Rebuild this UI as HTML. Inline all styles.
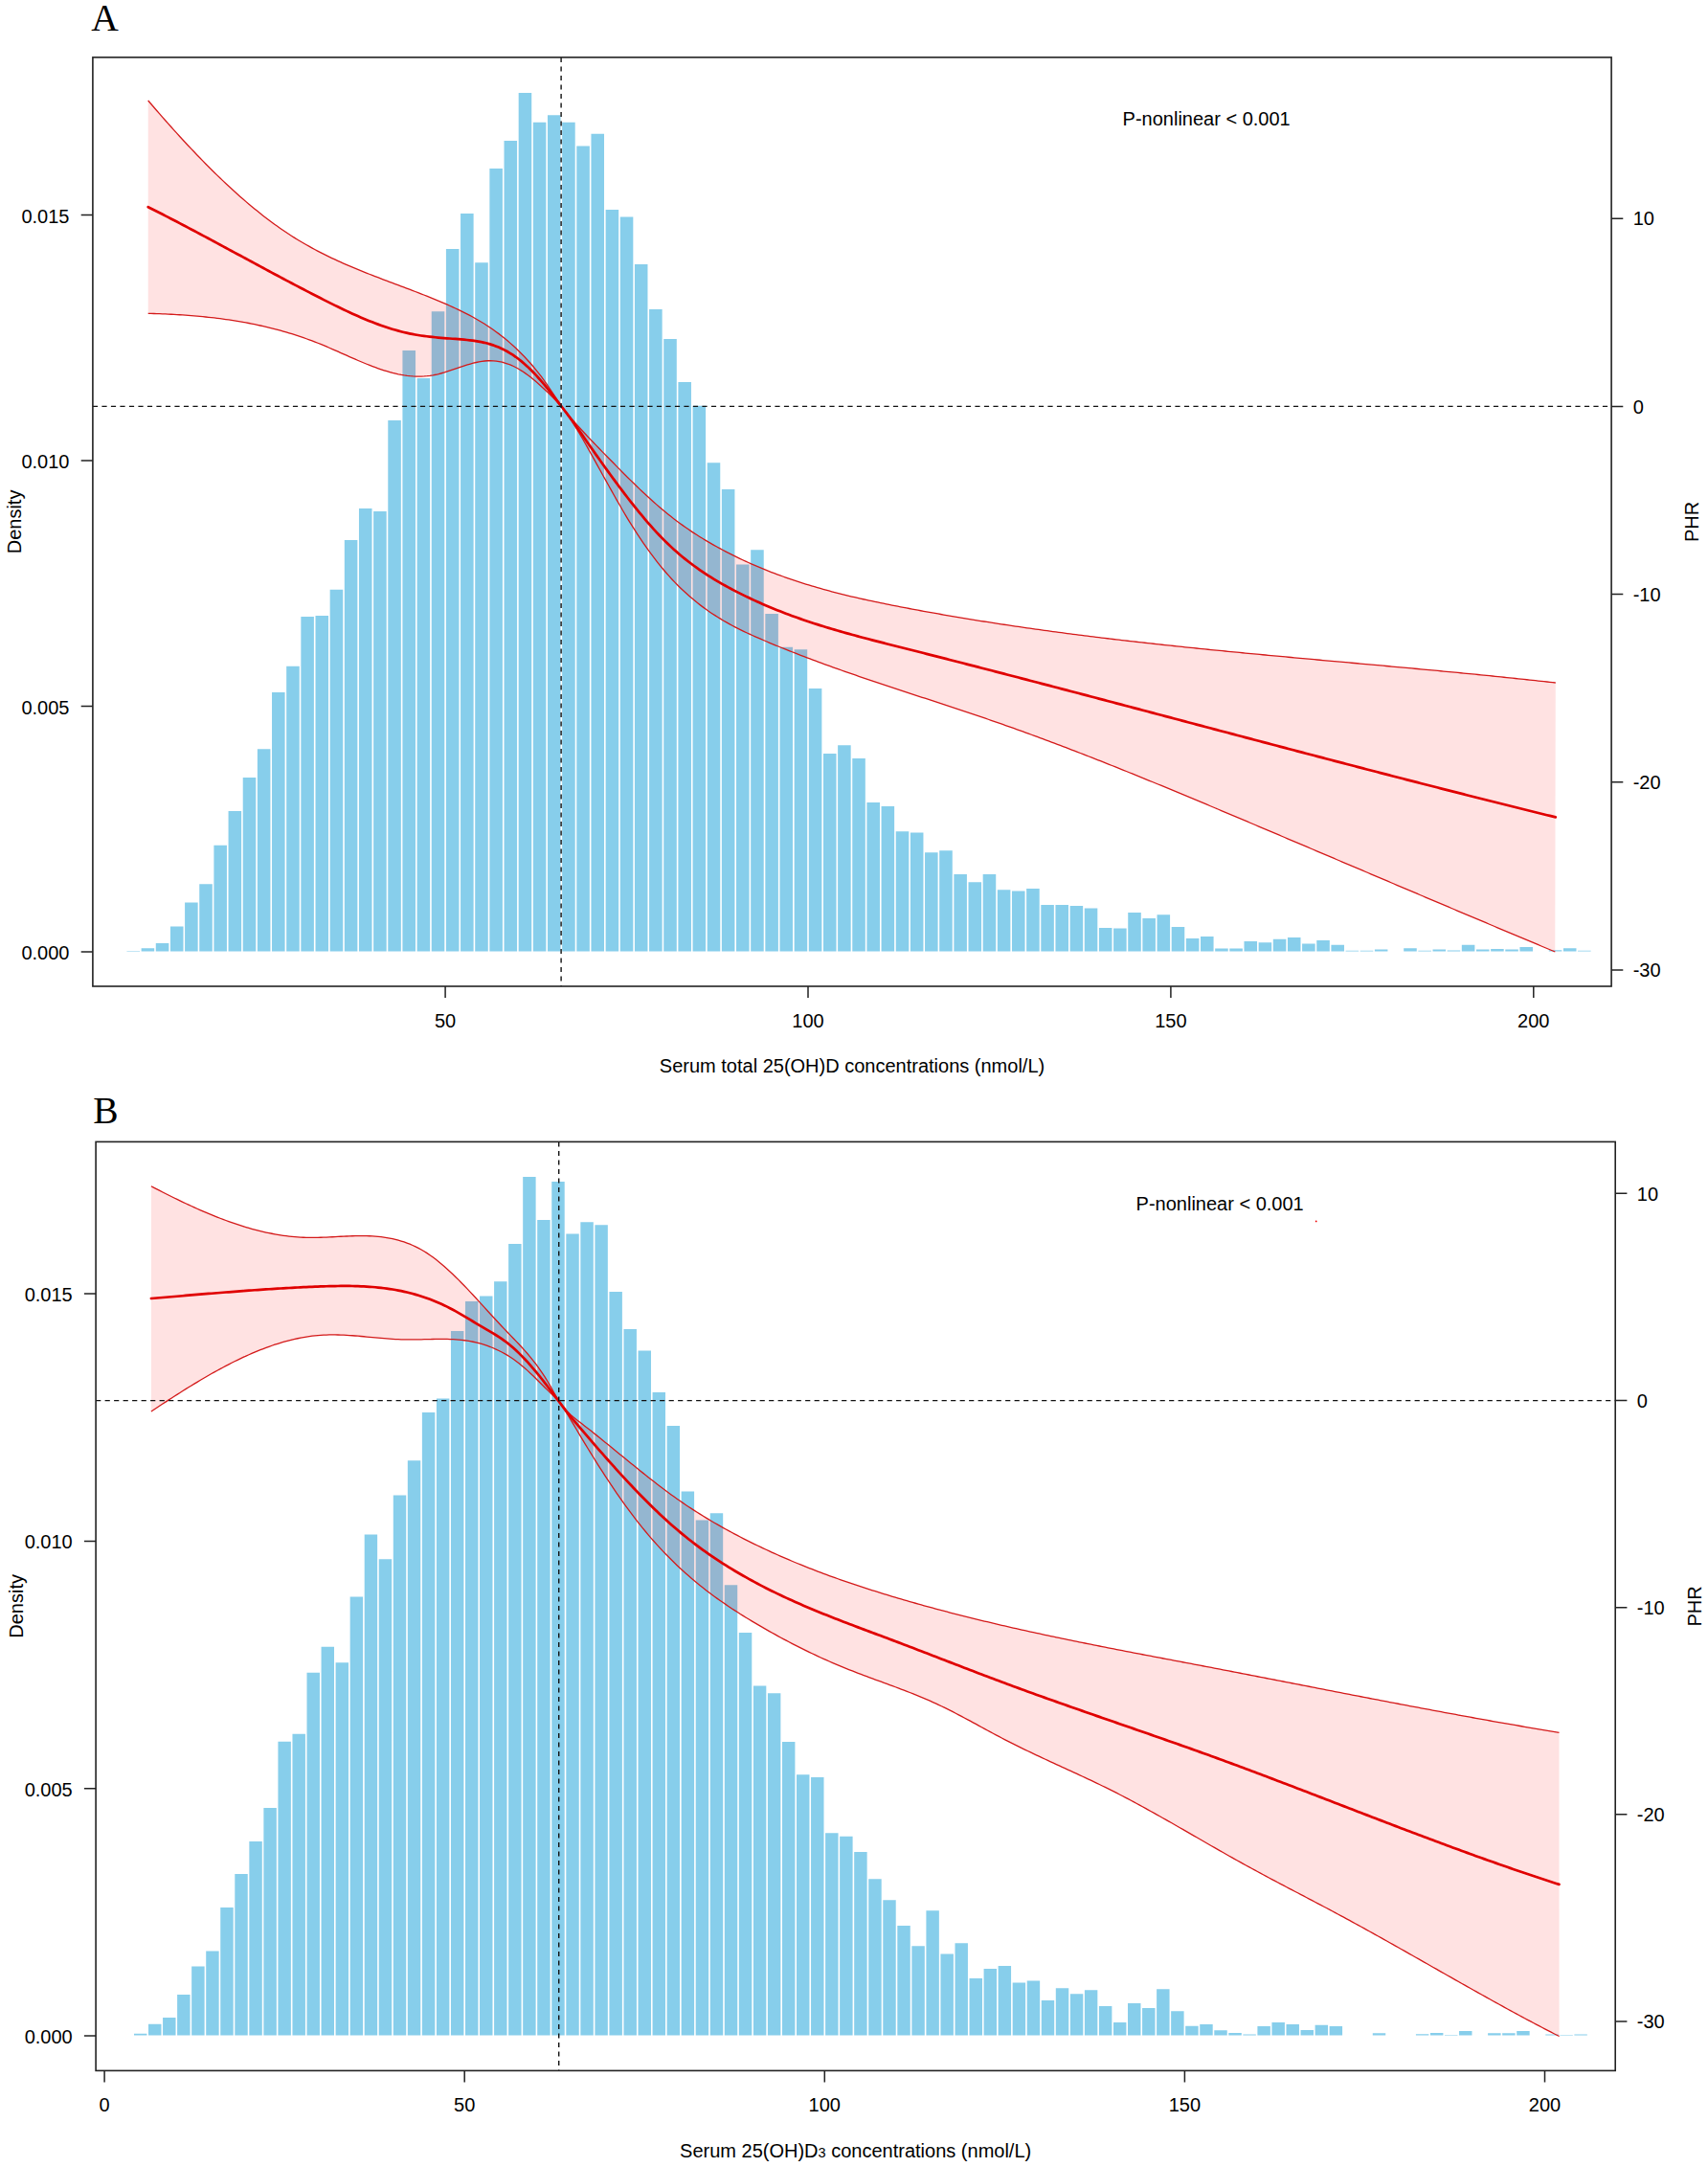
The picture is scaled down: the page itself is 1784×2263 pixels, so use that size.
<!DOCTYPE html>
<html><head><meta charset="utf-8"><title>Figure</title>
<style>
html,body{margin:0;padding:0;background:#fff;}
body{width:1784px;height:2263px;overflow:hidden;}
svg{display:block;}
.lab{font-family:"Liberation Sans",sans-serif;font-size:20px;fill:#000;}
.let{font-family:"Liberation Serif",serif;font-size:39.5px;fill:#000;}
</style></head>
<body>
<svg xmlns="http://www.w3.org/2000/svg" width="1784" height="2263" viewBox="0 0 1784 2263">
<rect width="1784" height="2263" fill="#fff"/>
<path d="M131.67,993.6V993H146.82V993.6ZM146.82,993.6V990.3H161.98V993.6ZM161.98,993.6V985H177.14V993.6ZM177.14,993.6V967.4H192.29V993.6ZM192.29,993.6V942.6H207.45V993.6ZM207.45,993.6V923.3H222.6V993.6ZM222.6,993.6V882.8H237.76V993.6ZM237.76,993.6V846.9H252.92V993.6ZM252.92,993.6V812H268.07V993.6ZM268.07,993.6V782.2H283.23V993.6ZM283.23,993.6V723H298.38V993.6ZM298.38,993.6V695.7H313.54V993.6ZM313.54,993.6V643.9H328.7V993.6ZM328.7,993.6V643H343.85V993.6ZM343.85,993.6V615.8H359.01V993.6ZM359.01,993.6V564.1H374.16V993.6ZM374.16,993.6V531.1H389.32V993.6ZM389.32,993.6V533.9H404.48V993.6ZM404.48,993.6V439.1H419.63V993.6ZM419.63,993.6V366H434.79V993.6ZM434.79,993.6V394.9H449.94V993.6ZM449.94,993.6V325.2H465.1V993.6ZM465.1,993.6V260.1H480.26V993.6ZM480.26,993.6V223H495.41V993.6ZM495.41,993.6V274.3H510.57V993.6ZM510.57,993.6V176H525.72V993.6ZM525.72,993.6V147H540.88V993.6ZM540.88,993.6V96.9H556.04V993.6ZM556.04,993.6V127.8H571.19V993.6ZM571.19,993.6V120.3H586.35V993.6ZM586.35,993.6V127.8H601.5V993.6ZM601.5,993.6V152.4H616.66V993.6ZM616.66,993.6V139.7H631.82V993.6ZM631.82,993.6V219.1H646.97V993.6ZM646.97,993.6V226.5H662.13V993.6ZM662.13,993.6V276H677.28V993.6ZM677.28,993.6V323H692.44V993.6ZM692.44,993.6V354.1H707.6V993.6ZM707.6,993.6V399H722.75V993.6ZM722.75,993.6V423.8H737.91V993.6ZM737.91,993.6V483.3H753.06V993.6ZM753.06,993.6V510.9H768.22V993.6ZM768.22,993.6V589.5H783.38V993.6ZM783.38,993.6V574.2H798.53V993.6ZM798.53,993.6V640.9H813.69V993.6ZM813.69,993.6V675.7H828.84V993.6ZM828.84,993.6V678.2H844V993.6ZM844,993.6V719H859.16V993.6ZM859.16,993.6V786.9H874.31V993.6ZM874.31,993.6V778.2H889.47V993.6ZM889.47,993.6V791.9H904.62V993.6ZM904.62,993.6V837.9H919.78V993.6ZM919.78,993.6V841.9H934.94V993.6ZM934.94,993.6V868.3H950.09V993.6ZM950.09,993.6V869.5H965.25V993.6ZM965.25,993.6V890.2H980.4V993.6ZM980.4,993.6V888.3H995.56V993.6ZM995.56,993.6V913.1H1010.72V993.6ZM1010.72,993.6V921.3H1025.87V993.6ZM1025.87,993.6V913.1H1041.03V993.6ZM1041.03,993.6V929.2H1056.18V993.6ZM1056.18,993.6V930.6H1071.34V993.6ZM1071.34,993.6V928H1086.5V993.6ZM1086.5,993.6V945H1101.65V993.6ZM1101.65,993.6V945H1116.81V993.6ZM1116.81,993.6V945.9H1131.96V993.6ZM1131.96,993.6V948.6H1147.12V993.6ZM1147.12,993.6V969H1162.28V993.6ZM1162.28,993.6V969.6H1177.43V993.6ZM1177.43,993.6V953H1192.59V993.6ZM1192.59,993.6V959H1207.74V993.6ZM1207.74,993.6V955.2H1222.9V993.6ZM1222.9,993.6V968H1238.06V993.6ZM1238.06,993.6V980H1253.21V993.6ZM1253.21,993.6V978H1268.37V993.6ZM1268.37,993.6V990.5H1283.52V993.6ZM1283.52,993.6V990.5H1298.68V993.6ZM1298.68,993.6V983H1313.84V993.6ZM1313.84,993.6V984.3H1328.99V993.6ZM1328.99,993.6V980.7H1344.15V993.6ZM1344.15,993.6V979.1H1359.3V993.6ZM1359.3,993.6V985.6H1374.46V993.6ZM1374.46,993.6V982H1389.62V993.6ZM1389.62,993.6V986.7H1404.77V993.6ZM1404.77,993.6V992.8H1419.93V993.6ZM1419.93,993.6V992.8H1435.08V993.6ZM1435.08,993.6V991.5H1450.24V993.6ZM1465.4,993.6V990.2H1480.55V993.6ZM1480.55,993.6V992.8H1495.71V993.6ZM1495.71,993.6V991.5H1510.86V993.6ZM1510.86,993.6V992.6H1526.02V993.6ZM1526.02,993.6V986.7H1541.18V993.6ZM1541.18,993.6V991.5H1556.33V993.6ZM1556.33,993.6V991H1571.49V993.6ZM1571.49,993.6V991.5H1586.64V993.6ZM1586.64,993.6V989.1H1601.8V993.6ZM1616.96,993.6V992.3H1632.11V993.6ZM1632.11,993.6V990.2H1647.27V993.6ZM1647.27,993.6V992.8H1662.42V993.6Z" fill="#87CEEB" stroke="none"/>
<path d="M131.67,995V992M146.82,995V989.3M161.98,995V984M177.14,995V966.4M192.29,995V941.6M207.45,995V922.3M222.6,995V881.8M237.76,995V845.9M252.92,995V811M268.07,995V781.2M283.23,995V722M298.38,995V694.7M313.54,995V642.9M328.7,995V642M343.85,995V614.8M359.01,995V563.1M374.16,995V530.1M389.32,995V530.1M404.48,995V438.1M419.63,995V365M434.79,995V365M449.94,995V324.2M465.1,995V259.1M480.26,995V222M495.41,995V222M510.57,995V175M525.72,995V146M540.88,995V95.9M556.04,995V95.9M571.19,995V119.3M586.35,995V119.3M601.5,995V126.8M616.66,995V138.7M631.82,995V138.7M646.97,995V218.1M662.13,995V225.5M677.28,995V275M692.44,995V322M707.6,995V353.1M722.75,995V398M737.91,995V422.8M753.06,995V482.3M768.22,995V509.9M783.38,995V573.2M798.53,995V573.2M813.69,995V639.9M828.84,995V674.7M844,995V677.2M859.16,995V718M874.31,995V777.2M889.47,995V777.2M904.62,995V790.9M919.78,995V836.9M934.94,995V840.9M950.09,995V867.3M965.25,995V868.5M980.4,995V887.3M995.56,995V887.3M1010.72,995V912.1M1025.87,995V912.1M1041.03,995V912.1M1056.18,995V928.2M1071.34,995V927M1086.5,995V927M1101.65,995V944M1116.81,995V944M1131.96,995V944.9M1147.12,995V947.6M1162.28,995V968M1177.43,995V952M1192.59,995V952M1207.74,995V954.2M1222.9,995V954.2M1238.06,995V967M1253.21,995V977M1268.37,995V977M1283.52,995V989.5M1298.68,995V982M1313.84,995V982M1328.99,995V979.7M1344.15,995V978.1M1359.3,995V978.1M1374.46,995V981M1389.62,995V981M1404.77,995V985.7M1419.93,995V991.8M1435.08,995V990.5M1450.24,995V990.5M1465.4,995V989.2M1480.55,995V989.2M1495.71,995V990.5M1510.86,995V990.5M1526.02,995V985.7M1541.18,995V985.7M1556.33,995V990M1571.49,995V990M1586.64,995V988.1M1601.8,995V988.1M1616.96,995V991.3M1632.11,995V989.2M1647.27,995V989.2M1662.42,995V991.8" stroke="#fff" stroke-width="1.6" fill="none"/>
<path d="M154.7,105 L157.7,108.51 L160.7,111.99 L163.7,115.46 L166.7,118.91 L169.7,122.34 L172.7,125.75 L175.7,129.14 L178.7,132.5 L181.7,135.84 L184.7,139.16 L187.7,142.45 L190.7,145.72 L193.7,148.97 L196.7,152.19 L199.7,155.38 L202.7,158.55 L205.7,161.69 L208.7,164.8 L211.7,167.88 L214.7,170.94 L217.7,173.96 L220.7,176.96 L223.7,179.92 L226.7,182.86 L229.71,185.76 L232.71,188.63 L235.71,191.47 L238.71,194.28 L241.71,197.05 L244.71,199.78 L247.71,202.48 L250.71,205.15 L253.71,207.78 L256.71,210.38 L259.71,212.93 L262.71,215.45 L265.71,217.93 L268.71,220.37 L271.71,222.78 L274.71,225.14 L277.71,227.46 L280.71,229.74 L283.71,231.98 L286.71,234.18 L289.71,236.34 L292.71,238.45 L295.71,240.52 L298.71,242.54 L301.71,244.52 L304.71,246.45 L307.71,248.35 L310.71,250.19 L313.71,252 L316.71,253.77 L319.71,255.5 L322.71,257.19 L325.71,258.85 L328.71,260.47 L331.71,262.06 L334.71,263.62 L337.71,265.14 L340.71,266.64 L343.71,268.1 L346.71,269.54 L349.71,270.95 L352.71,272.34 L355.71,273.7 L358.71,275.04 L361.71,276.35 L364.71,277.65 L367.71,278.92 L370.71,280.18 L373.71,281.42 L376.72,282.65 L379.72,283.86 L382.72,285.06 L385.72,286.24 L388.72,287.42 L391.72,288.58 L394.72,289.73 L397.72,290.88 L400.72,292.02 L403.72,293.16 L406.72,294.29 L409.72,295.42 L412.72,296.55 L415.72,297.67 L418.72,298.8 L421.72,299.93 L424.72,301.07 L427.72,302.2 L430.72,303.35 L433.72,304.5 L436.72,305.65 L439.72,306.82 L442.72,308 L445.72,309.19 L448.72,310.39 L451.72,311.61 L454.72,312.84 L457.72,314.08 L460.72,315.35 L463.72,316.63 L466.72,317.93 L469.72,319.26 L472.72,320.61 L475.72,321.98 L478.72,323.39 L481.72,324.84 L484.72,326.32 L487.72,327.84 L490.72,329.42 L493.72,331.03 L496.72,332.71 L499.72,334.44 L502.72,336.22 L505.72,338.07 L508.72,339.99 L511.72,341.98 L514.72,344.04 L517.72,346.17 L520.72,348.39 L523.73,350.69 L526.73,353.08 L529.73,355.56 L532.73,358.13 L535.73,360.8 L538.73,363.57 L541.73,366.44 L544.73,369.43 L547.73,372.52 L550.73,375.73 L553.73,379.06 L556.73,382.51 L559.73,386.09 L562.73,389.82 L565.73,393.72 L568.73,397.81 L571.73,402.1 L574.73,406.57 L577.73,411.12 L580.73,415.65 L583.73,420.08 L586.73,424.31 L589.73,428.29 L592.73,432.06 L595.73,435.66 L598.73,439.17 L601.73,442.6 L604.73,445.96 L607.73,449.27 L610.73,452.53 L613.73,455.74 L616.73,458.92 L619.73,462.06 L622.73,465.17 L625.73,468.26 L628.73,471.34 L631.73,474.4 L634.73,477.47 L637.73,480.53 L640.73,483.58 L643.73,486.62 L646.73,489.66 L649.73,492.68 L652.73,495.68 L655.73,498.67 L658.73,501.63 L661.73,504.57 L664.73,507.48 L667.73,510.36 L670.74,513.21 L673.74,516.02 L676.74,518.8 L679.74,521.54 L682.74,524.23 L685.74,526.88 L688.74,529.48 L691.74,532.03 L694.74,534.53 L697.74,536.97 L700.74,539.36 L703.74,541.69 L706.74,543.97 L709.74,546.19 L712.74,548.37 L715.74,550.5 L718.74,552.58 L721.74,554.62 L724.74,556.61 L727.74,558.55 L730.74,560.46 L733.74,562.32 L736.74,564.14 L739.74,565.92 L742.74,567.67 L745.74,569.38 L748.74,571.05 L751.74,572.69 L754.74,574.3 L757.74,575.88 L760.74,577.42 L763.74,578.94 L766.74,580.43 L769.74,581.9 L772.74,583.33 L775.74,584.74 L778.74,586.13 L781.74,587.49 L784.74,588.83 L787.74,590.14 L790.74,591.43 L793.74,592.69 L796.74,593.93 L799.74,595.15 L802.74,596.35 L805.74,597.52 L808.74,598.67 L811.74,599.8 L814.74,600.91 L817.75,602 L820.75,603.07 L823.75,604.12 L826.75,605.15 L829.75,606.16 L832.75,607.16 L835.75,608.13 L838.75,609.09 L841.75,610.03 L844.75,610.95 L847.75,611.85 L850.75,612.74 L853.75,613.62 L856.75,614.48 L859.75,615.32 L862.75,616.15 L865.75,616.96 L868.75,617.76 L871.75,618.55 L874.75,619.32 L877.75,620.08 L880.75,620.83 L883.75,621.57 L886.75,622.29 L889.75,623.01 L892.75,623.71 L895.75,624.4 L898.75,625.08 L901.75,625.75 L904.75,626.42 L907.75,627.07 L910.75,627.72 L913.75,628.35 L916.75,628.98 L919.75,629.6 L922.75,630.22 L925.75,630.83 L928.75,631.43 L931.75,632.03 L934.75,632.62 L937.75,633.2 L940.75,633.78 L943.75,634.36 L946.75,634.93 L949.75,635.5 L952.75,636.07 L955.75,636.63 L958.75,637.19 L961.75,637.74 L964.76,638.29 L967.76,638.84 L970.76,639.38 L973.76,639.92 L976.76,640.45 L979.76,640.98 L982.76,641.51 L985.76,642.03 L988.76,642.55 L991.76,643.07 L994.76,643.58 L997.76,644.09 L1000.76,644.6 L1003.76,645.1 L1006.76,645.6 L1009.76,646.1 L1012.76,646.59 L1015.76,647.08 L1018.76,647.57 L1021.76,648.05 L1024.76,648.53 L1027.76,649.01 L1030.76,649.48 L1033.76,649.95 L1036.76,650.41 L1039.76,650.88 L1042.76,651.34 L1045.76,651.8 L1048.76,652.25 L1051.76,652.7 L1054.76,653.15 L1057.76,653.59 L1060.76,654.04 L1063.76,654.48 L1066.76,654.91 L1069.76,655.34 L1072.76,655.78 L1075.76,656.2 L1078.76,656.63 L1081.76,657.05 L1084.76,657.47 L1087.76,657.89 L1090.76,658.3 L1093.76,658.71 L1096.76,659.12 L1099.76,659.52 L1102.76,659.93 L1105.76,660.33 L1108.76,660.73 L1111.77,661.12 L1114.77,661.52 L1117.77,661.91 L1120.77,662.29 L1123.77,662.68 L1126.77,663.06 L1129.77,663.44 L1132.77,663.82 L1135.77,664.2 L1138.77,664.57 L1141.77,664.94 L1144.77,665.31 L1147.77,665.68 L1150.77,666.04 L1153.77,666.41 L1156.77,666.77 L1159.77,667.13 L1162.77,667.48 L1165.77,667.84 L1168.77,668.19 L1171.77,668.54 L1174.77,668.89 L1177.77,669.23 L1180.77,669.58 L1183.77,669.92 L1186.77,670.26 L1189.77,670.6 L1192.77,670.94 L1195.77,671.27 L1198.77,671.6 L1201.77,671.93 L1204.77,672.26 L1207.77,672.59 L1210.77,672.92 L1213.77,673.24 L1216.77,673.57 L1219.77,673.89 L1222.77,674.21 L1225.77,674.52 L1228.77,674.84 L1231.77,675.16 L1234.77,675.47 L1237.77,675.78 L1240.77,676.09 L1243.77,676.4 L1246.77,676.71 L1249.77,677.01 L1252.77,677.32 L1255.77,677.62 L1258.78,677.93 L1261.78,678.23 L1264.78,678.53 L1267.78,678.83 L1270.78,679.12 L1273.78,679.42 L1276.78,679.71 L1279.78,680.01 L1282.78,680.3 L1285.78,680.59 L1288.78,680.88 L1291.78,681.17 L1294.78,681.46 L1297.78,681.75 L1300.78,682.04 L1303.78,682.32 L1306.78,682.61 L1309.78,682.89 L1312.78,683.18 L1315.78,683.46 L1318.78,683.74 L1321.78,684.02 L1324.78,684.3 L1327.78,684.58 L1330.78,684.86 L1333.78,685.14 L1336.78,685.42 L1339.78,685.7 L1342.78,685.97 L1345.78,686.25 L1348.78,686.52 L1351.78,686.8 L1354.78,687.07 L1357.78,687.35 L1360.78,687.62 L1363.78,687.89 L1366.78,688.17 L1369.78,688.44 L1372.78,688.71 L1375.78,688.98 L1378.78,689.26 L1381.78,689.53 L1384.78,689.8 L1387.78,690.07 L1390.78,690.34 L1393.78,690.61 L1396.78,690.88 L1399.78,691.15 L1402.78,691.42 L1405.79,691.69 L1408.79,691.96 L1411.79,692.23 L1414.79,692.5 L1417.79,692.77 L1420.79,693.04 L1423.79,693.31 L1426.79,693.58 L1429.79,693.86 L1432.79,694.13 L1435.79,694.4 L1438.79,694.67 L1441.79,694.94 L1444.79,695.21 L1447.79,695.49 L1450.79,695.76 L1453.79,696.03 L1456.79,696.3 L1459.79,696.58 L1462.79,696.85 L1465.79,697.13 L1468.79,697.4 L1471.79,697.68 L1474.79,697.96 L1477.79,698.23 L1480.79,698.51 L1483.79,698.79 L1486.79,699.07 L1489.79,699.35 L1492.79,699.63 L1495.79,699.91 L1498.79,700.19 L1501.79,700.47 L1504.79,700.75 L1507.79,701.04 L1510.79,701.32 L1513.79,701.61 L1516.79,701.89 L1519.79,702.18 L1522.79,702.47 L1525.79,702.76 L1528.79,703.05 L1531.79,703.34 L1534.79,703.63 L1537.79,703.93 L1540.79,704.22 L1543.79,704.52 L1546.79,704.81 L1549.79,705.11 L1552.8,705.41 L1555.8,705.71 L1558.8,706.01 L1561.8,706.32 L1564.8,706.62 L1567.8,706.93 L1570.8,707.23 L1573.8,707.54 L1576.8,707.85 L1579.8,708.16 L1582.8,708.48 L1585.8,708.79 L1588.8,709.11 L1591.8,709.42 L1594.8,709.74 L1597.8,710.06 L1600.8,710.39 L1603.8,710.71 L1606.8,711.03 L1609.8,711.36 L1612.8,711.69 L1615.8,712.02 L1618.8,712.35 L1621.8,712.69 L1624.8,713.02 L1624.3,994.01 L1621.29,992.76 L1618.29,991.5 L1615.28,990.24 L1612.28,988.99 L1609.27,987.73 L1606.27,986.47 L1603.26,985.21 L1600.26,983.95 L1597.25,982.69 L1594.25,981.43 L1591.24,980.17 L1588.24,978.9 L1585.23,977.64 L1582.23,976.38 L1579.22,975.11 L1576.21,973.85 L1573.21,972.59 L1570.2,971.32 L1567.2,970.06 L1564.19,968.79 L1561.19,967.52 L1558.18,966.26 L1555.18,964.99 L1552.17,963.72 L1549.17,962.46 L1546.16,961.19 L1543.16,959.92 L1540.15,958.65 L1537.15,957.38 L1534.14,956.11 L1531.14,954.84 L1528.13,953.57 L1525.12,952.3 L1522.12,951.03 L1519.11,949.76 L1516.11,948.49 L1513.1,947.22 L1510.1,945.94 L1507.09,944.67 L1504.09,943.4 L1501.08,942.13 L1498.08,940.85 L1495.07,939.58 L1492.07,938.31 L1489.06,937.03 L1486.06,935.76 L1483.05,934.48 L1480.04,933.21 L1477.04,931.93 L1474.03,930.66 L1471.03,929.38 L1468.02,928.11 L1465.02,926.83 L1462.01,925.56 L1459.01,924.28 L1456,923.01 L1453,921.73 L1449.99,920.46 L1446.99,919.18 L1443.98,917.9 L1440.98,916.63 L1437.97,915.35 L1434.97,914.07 L1431.96,912.8 L1428.95,911.52 L1425.95,910.24 L1422.94,908.97 L1419.94,907.69 L1416.93,906.41 L1413.93,905.14 L1410.92,903.86 L1407.92,902.58 L1404.91,901.31 L1401.91,900.03 L1398.9,898.75 L1395.9,897.48 L1392.89,896.2 L1389.89,894.92 L1386.88,893.65 L1383.87,892.37 L1380.87,891.09 L1377.86,889.82 L1374.86,888.54 L1371.85,887.27 L1368.85,885.99 L1365.84,884.71 L1362.84,883.44 L1359.83,882.16 L1356.83,880.89 L1353.82,879.61 L1350.82,878.34 L1347.81,877.06 L1344.81,875.79 L1341.8,874.51 L1338.79,873.24 L1335.79,871.96 L1332.78,870.69 L1329.78,869.41 L1326.77,868.14 L1323.77,866.87 L1320.76,865.59 L1317.76,864.32 L1314.75,863.05 L1311.75,861.77 L1308.74,860.5 L1305.74,859.23 L1302.73,857.96 L1299.73,856.69 L1296.72,855.42 L1293.72,854.15 L1290.71,852.88 L1287.7,851.61 L1284.7,850.34 L1281.69,849.07 L1278.69,847.8 L1275.68,846.54 L1272.68,845.27 L1269.67,844.01 L1266.67,842.74 L1263.66,841.48 L1260.66,840.22 L1257.65,838.96 L1254.65,837.7 L1251.64,836.44 L1248.64,835.18 L1245.63,833.93 L1242.62,832.67 L1239.62,831.42 L1236.61,830.17 L1233.61,828.92 L1230.6,827.67 L1227.6,826.42 L1224.59,825.18 L1221.59,823.93 L1218.58,822.69 L1215.58,821.45 L1212.57,820.21 L1209.57,818.98 L1206.56,817.74 L1203.56,816.51 L1200.55,815.28 L1197.54,814.05 L1194.54,812.83 L1191.53,811.6 L1188.53,810.38 L1185.52,809.16 L1182.52,807.95 L1179.51,806.73 L1176.51,805.52 L1173.5,804.31 L1170.5,803.1 L1167.49,801.9 L1164.49,800.7 L1161.48,799.5 L1158.48,798.3 L1155.47,797.11 L1152.47,795.92 L1149.46,794.73 L1146.45,793.55 L1143.45,792.37 L1140.44,791.19 L1137.44,790.01 L1134.43,788.84 L1131.43,787.67 L1128.42,786.51 L1125.42,785.34 L1122.41,784.19 L1119.41,783.03 L1116.4,781.88 L1113.4,780.73 L1110.39,779.59 L1107.39,778.44 L1104.38,777.31 L1101.37,776.17 L1098.37,775.04 L1095.36,773.92 L1092.36,772.8 L1089.35,771.68 L1086.35,770.56 L1083.34,769.45 L1080.34,768.35 L1077.33,767.24 L1074.33,766.15 L1071.32,765.05 L1068.32,763.96 L1065.31,762.88 L1062.31,761.8 L1059.3,760.72 L1056.3,759.65 L1053.29,758.58 L1050.28,757.52 L1047.28,756.46 L1044.27,755.41 L1041.27,754.36 L1038.26,753.32 L1035.26,752.28 L1032.25,751.24 L1029.25,750.21 L1026.24,749.19 L1023.24,748.17 L1020.23,747.15 L1017.23,746.13 L1014.22,745.12 L1011.22,744.11 L1008.21,743.11 L1005.2,742.11 L1002.2,741.11 L999.19,740.11 L996.19,739.11 L993.18,738.12 L990.18,737.13 L987.17,736.14 L984.17,735.15 L981.16,734.17 L978.16,733.18 L975.15,732.19 L972.15,731.21 L969.14,730.23 L966.14,729.24 L963.13,728.26 L960.12,727.28 L957.12,726.29 L954.11,725.31 L951.11,724.32 L948.1,723.34 L945.1,722.35 L942.09,721.36 L939.09,720.37 L936.08,719.38 L933.08,718.39 L930.07,717.4 L927.07,716.4 L924.06,715.4 L921.06,714.4 L918.05,713.39 L915.05,712.39 L912.04,711.38 L909.03,710.36 L906.03,709.34 L903.02,708.32 L900.02,707.3 L897.01,706.27 L894.01,705.23 L891,704.2 L888,703.15 L884.99,702.11 L881.99,701.05 L878.98,700 L875.98,698.93 L872.97,697.86 L869.97,696.79 L866.96,695.71 L863.95,694.62 L860.95,693.53 L857.94,692.43 L854.94,691.32 L851.93,690.21 L848.93,689.09 L845.92,687.96 L842.92,686.82 L839.91,685.68 L836.91,684.53 L833.9,683.37 L830.9,682.2 L827.89,681.02 L824.89,679.84 L821.88,678.64 L818.88,677.44 L815.87,676.23 L812.86,675.01 L809.86,673.78 L806.85,672.53 L803.85,671.28 L800.84,670.02 L797.84,668.75 L794.83,667.46 L791.83,666.16 L788.82,664.84 L785.82,663.5 L782.81,662.13 L779.81,660.74 L776.8,659.31 L773.8,657.85 L770.79,656.35 L767.78,654.81 L764.78,653.23 L761.77,651.6 L758.77,649.92 L755.76,648.19 L752.76,646.41 L749.75,644.56 L746.75,642.66 L743.74,640.69 L740.74,638.66 L737.73,636.55 L734.73,634.37 L731.72,632.12 L728.72,629.78 L725.71,627.36 L722.7,624.86 L719.7,622.27 L716.69,619.59 L713.69,616.81 L710.68,613.94 L707.68,610.96 L704.67,607.88 L701.67,604.7 L698.66,601.41 L695.66,598 L692.65,594.48 L689.65,590.84 L686.64,587.09 L683.64,583.22 L680.63,579.24 L677.63,575.15 L674.62,570.93 L671.61,566.61 L668.61,562.17 L665.6,557.62 L662.6,552.95 L659.59,548.17 L656.59,543.29 L653.58,538.3 L650.58,533.22 L647.57,528.05 L644.57,522.82 L641.56,517.53 L638.56,512.19 L635.55,506.8 L632.55,501.39 L629.54,495.96 L626.53,490.51 L623.53,485.07 L620.52,479.64 L617.52,474.22 L614.51,468.84 L611.51,463.51 L608.5,458.25 L605.5,453.11 L602.49,448.12 L599.49,443.31 L596.48,438.71 L593.48,434.35 L590.47,430.23 L587.47,426.35 L584.46,422.71 L581.46,419.3 L578.45,416.08 L575.44,413.02 L572.44,410.07 L569.43,407.2 L566.43,404.41 L563.42,401.68 L560.42,399.05 L557.41,396.51 L554.41,394.08 L551.4,391.78 L548.4,389.61 L545.39,387.58 L542.39,385.72 L539.38,384.03 L536.38,382.51 L533.37,381.17 L530.36,380.01 L527.36,379.02 L524.35,378.21 L521.35,377.57 L518.34,377.11 L515.34,376.82 L512.33,376.71 L509.33,376.77 L506.32,376.99 L503.32,377.37 L500.31,377.87 L497.31,378.5 L494.3,379.22 L491.3,380.04 L488.29,380.93 L485.28,381.87 L482.28,382.86 L479.27,383.88 L476.27,384.91 L473.26,385.94 L470.26,386.96 L467.25,387.94 L464.25,388.88 L461.24,389.75 L458.24,390.55 L455.23,391.26 L452.23,391.86 L449.22,392.35 L446.22,392.72 L443.21,392.97 L440.21,393.11 L437.2,393.15 L434.19,393.09 L431.19,392.93 L428.18,392.68 L425.18,392.33 L422.17,391.9 L419.17,391.39 L416.16,390.8 L413.16,390.13 L410.15,389.4 L407.15,388.6 L404.14,387.73 L401.14,386.81 L398.13,385.83 L395.13,384.8 L392.12,383.72 L389.11,382.6 L386.11,381.44 L383.1,380.25 L380.1,379.02 L377.09,377.77 L374.09,376.49 L371.08,375.19 L368.08,373.88 L365.07,372.55 L362.07,371.21 L359.06,369.88 L356.06,368.54 L353.05,367.2 L350.05,365.87 L347.04,364.55 L344.03,363.25 L341.03,361.97 L338.02,360.71 L335.02,359.47 L332.01,358.27 L329.01,357.09 L326,355.95 L323,354.83 L319.99,353.75 L316.99,352.69 L313.98,351.66 L310.98,350.66 L307.97,349.69 L304.97,348.74 L301.96,347.82 L298.96,346.92 L295.95,346.06 L292.94,345.21 L289.94,344.4 L286.93,343.6 L283.93,342.83 L280.92,342.09 L277.92,341.37 L274.91,340.67 L271.91,340 L268.9,339.34 L265.9,338.71 L262.89,338.1 L259.89,337.51 L256.88,336.95 L253.88,336.4 L250.87,335.87 L247.86,335.37 L244.86,334.88 L241.85,334.41 L238.85,333.96 L235.84,333.53 L232.84,333.11 L229.83,332.72 L226.83,332.34 L223.82,331.97 L220.82,331.63 L217.81,331.3 L214.81,330.98 L211.8,330.68 L208.8,330.39 L205.79,330.12 L202.79,329.86 L199.78,329.62 L196.77,329.39 L193.77,329.17 L190.76,328.96 L187.76,328.77 L184.75,328.58 L181.75,328.41 L178.74,328.25 L175.74,328.1 L172.73,327.96 L169.73,327.83 L166.72,327.71 L163.72,327.6 L160.71,327.49 L157.71,327.39 L154.7,327.31 Z" fill="rgb(255,0,0)" fill-opacity="0.115" stroke="none"/>
<path d="M154.7,105 L157.7,108.51 L160.7,111.99 L163.7,115.46 L166.7,118.91 L169.7,122.34 L172.7,125.75 L175.7,129.14 L178.7,132.5 L181.7,135.84 L184.7,139.16 L187.7,142.45 L190.7,145.72 L193.7,148.97 L196.7,152.19 L199.7,155.38 L202.7,158.55 L205.7,161.69 L208.7,164.8 L211.7,167.88 L214.7,170.94 L217.7,173.96 L220.7,176.96 L223.7,179.92 L226.7,182.86 L229.71,185.76 L232.71,188.63 L235.71,191.47 L238.71,194.28 L241.71,197.05 L244.71,199.78 L247.71,202.48 L250.71,205.15 L253.71,207.78 L256.71,210.38 L259.71,212.93 L262.71,215.45 L265.71,217.93 L268.71,220.37 L271.71,222.78 L274.71,225.14 L277.71,227.46 L280.71,229.74 L283.71,231.98 L286.71,234.18 L289.71,236.34 L292.71,238.45 L295.71,240.52 L298.71,242.54 L301.71,244.52 L304.71,246.45 L307.71,248.35 L310.71,250.19 L313.71,252 L316.71,253.77 L319.71,255.5 L322.71,257.19 L325.71,258.85 L328.71,260.47 L331.71,262.06 L334.71,263.62 L337.71,265.14 L340.71,266.64 L343.71,268.1 L346.71,269.54 L349.71,270.95 L352.71,272.34 L355.71,273.7 L358.71,275.04 L361.71,276.35 L364.71,277.65 L367.71,278.92 L370.71,280.18 L373.71,281.42 L376.72,282.65 L379.72,283.86 L382.72,285.06 L385.72,286.24 L388.72,287.42 L391.72,288.58 L394.72,289.73 L397.72,290.88 L400.72,292.02 L403.72,293.16 L406.72,294.29 L409.72,295.42 L412.72,296.55 L415.72,297.67 L418.72,298.8 L421.72,299.93 L424.72,301.07 L427.72,302.2 L430.72,303.35 L433.72,304.5 L436.72,305.65 L439.72,306.82 L442.72,308 L445.72,309.19 L448.72,310.39 L451.72,311.61 L454.72,312.84 L457.72,314.08 L460.72,315.35 L463.72,316.63 L466.72,317.93 L469.72,319.26 L472.72,320.61 L475.72,321.98 L478.72,323.39 L481.72,324.84 L484.72,326.32 L487.72,327.84 L490.72,329.42 L493.72,331.03 L496.72,332.71 L499.72,334.44 L502.72,336.22 L505.72,338.07 L508.72,339.99 L511.72,341.98 L514.72,344.04 L517.72,346.17 L520.72,348.39 L523.73,350.69 L526.73,353.08 L529.73,355.56 L532.73,358.13 L535.73,360.8 L538.73,363.57 L541.73,366.44 L544.73,369.43 L547.73,372.52 L550.73,375.73 L553.73,379.06 L556.73,382.51 L559.73,386.09 L562.73,389.82 L565.73,393.72 L568.73,397.81 L571.73,402.1 L574.73,406.57 L577.73,411.12 L580.73,415.65 L583.73,420.08 L586.73,424.31 L589.73,428.29 L592.73,432.06 L595.73,435.66 L598.73,439.17 L601.73,442.6 L604.73,445.96 L607.73,449.27 L610.73,452.53 L613.73,455.74 L616.73,458.92 L619.73,462.06 L622.73,465.17 L625.73,468.26 L628.73,471.34 L631.73,474.4 L634.73,477.47 L637.73,480.53 L640.73,483.58 L643.73,486.62 L646.73,489.66 L649.73,492.68 L652.73,495.68 L655.73,498.67 L658.73,501.63 L661.73,504.57 L664.73,507.48 L667.73,510.36 L670.74,513.21 L673.74,516.02 L676.74,518.8 L679.74,521.54 L682.74,524.23 L685.74,526.88 L688.74,529.48 L691.74,532.03 L694.74,534.53 L697.74,536.97 L700.74,539.36 L703.74,541.69 L706.74,543.97 L709.74,546.19 L712.74,548.37 L715.74,550.5 L718.74,552.58 L721.74,554.62 L724.74,556.61 L727.74,558.55 L730.74,560.46 L733.74,562.32 L736.74,564.14 L739.74,565.92 L742.74,567.67 L745.74,569.38 L748.74,571.05 L751.74,572.69 L754.74,574.3 L757.74,575.88 L760.74,577.42 L763.74,578.94 L766.74,580.43 L769.74,581.9 L772.74,583.33 L775.74,584.74 L778.74,586.13 L781.74,587.49 L784.74,588.83 L787.74,590.14 L790.74,591.43 L793.74,592.69 L796.74,593.93 L799.74,595.15 L802.74,596.35 L805.74,597.52 L808.74,598.67 L811.74,599.8 L814.74,600.91 L817.75,602 L820.75,603.07 L823.75,604.12 L826.75,605.15 L829.75,606.16 L832.75,607.16 L835.75,608.13 L838.75,609.09 L841.75,610.03 L844.75,610.95 L847.75,611.85 L850.75,612.74 L853.75,613.62 L856.75,614.48 L859.75,615.32 L862.75,616.15 L865.75,616.96 L868.75,617.76 L871.75,618.55 L874.75,619.32 L877.75,620.08 L880.75,620.83 L883.75,621.57 L886.75,622.29 L889.75,623.01 L892.75,623.71 L895.75,624.4 L898.75,625.08 L901.75,625.75 L904.75,626.42 L907.75,627.07 L910.75,627.72 L913.75,628.35 L916.75,628.98 L919.75,629.6 L922.75,630.22 L925.75,630.83 L928.75,631.43 L931.75,632.03 L934.75,632.62 L937.75,633.2 L940.75,633.78 L943.75,634.36 L946.75,634.93 L949.75,635.5 L952.75,636.07 L955.75,636.63 L958.75,637.19 L961.75,637.74 L964.76,638.29 L967.76,638.84 L970.76,639.38 L973.76,639.92 L976.76,640.45 L979.76,640.98 L982.76,641.51 L985.76,642.03 L988.76,642.55 L991.76,643.07 L994.76,643.58 L997.76,644.09 L1000.76,644.6 L1003.76,645.1 L1006.76,645.6 L1009.76,646.1 L1012.76,646.59 L1015.76,647.08 L1018.76,647.57 L1021.76,648.05 L1024.76,648.53 L1027.76,649.01 L1030.76,649.48 L1033.76,649.95 L1036.76,650.41 L1039.76,650.88 L1042.76,651.34 L1045.76,651.8 L1048.76,652.25 L1051.76,652.7 L1054.76,653.15 L1057.76,653.59 L1060.76,654.04 L1063.76,654.48 L1066.76,654.91 L1069.76,655.34 L1072.76,655.78 L1075.76,656.2 L1078.76,656.63 L1081.76,657.05 L1084.76,657.47 L1087.76,657.89 L1090.76,658.3 L1093.76,658.71 L1096.76,659.12 L1099.76,659.52 L1102.76,659.93 L1105.76,660.33 L1108.76,660.73 L1111.77,661.12 L1114.77,661.52 L1117.77,661.91 L1120.77,662.29 L1123.77,662.68 L1126.77,663.06 L1129.77,663.44 L1132.77,663.82 L1135.77,664.2 L1138.77,664.57 L1141.77,664.94 L1144.77,665.31 L1147.77,665.68 L1150.77,666.04 L1153.77,666.41 L1156.77,666.77 L1159.77,667.13 L1162.77,667.48 L1165.77,667.84 L1168.77,668.19 L1171.77,668.54 L1174.77,668.89 L1177.77,669.23 L1180.77,669.58 L1183.77,669.92 L1186.77,670.26 L1189.77,670.6 L1192.77,670.94 L1195.77,671.27 L1198.77,671.6 L1201.77,671.93 L1204.77,672.26 L1207.77,672.59 L1210.77,672.92 L1213.77,673.24 L1216.77,673.57 L1219.77,673.89 L1222.77,674.21 L1225.77,674.52 L1228.77,674.84 L1231.77,675.16 L1234.77,675.47 L1237.77,675.78 L1240.77,676.09 L1243.77,676.4 L1246.77,676.71 L1249.77,677.01 L1252.77,677.32 L1255.77,677.62 L1258.78,677.93 L1261.78,678.23 L1264.78,678.53 L1267.78,678.83 L1270.78,679.12 L1273.78,679.42 L1276.78,679.71 L1279.78,680.01 L1282.78,680.3 L1285.78,680.59 L1288.78,680.88 L1291.78,681.17 L1294.78,681.46 L1297.78,681.75 L1300.78,682.04 L1303.78,682.32 L1306.78,682.61 L1309.78,682.89 L1312.78,683.18 L1315.78,683.46 L1318.78,683.74 L1321.78,684.02 L1324.78,684.3 L1327.78,684.58 L1330.78,684.86 L1333.78,685.14 L1336.78,685.42 L1339.78,685.7 L1342.78,685.97 L1345.78,686.25 L1348.78,686.52 L1351.78,686.8 L1354.78,687.07 L1357.78,687.35 L1360.78,687.62 L1363.78,687.89 L1366.78,688.17 L1369.78,688.44 L1372.78,688.71 L1375.78,688.98 L1378.78,689.26 L1381.78,689.53 L1384.78,689.8 L1387.78,690.07 L1390.78,690.34 L1393.78,690.61 L1396.78,690.88 L1399.78,691.15 L1402.78,691.42 L1405.79,691.69 L1408.79,691.96 L1411.79,692.23 L1414.79,692.5 L1417.79,692.77 L1420.79,693.04 L1423.79,693.31 L1426.79,693.58 L1429.79,693.86 L1432.79,694.13 L1435.79,694.4 L1438.79,694.67 L1441.79,694.94 L1444.79,695.21 L1447.79,695.49 L1450.79,695.76 L1453.79,696.03 L1456.79,696.3 L1459.79,696.58 L1462.79,696.85 L1465.79,697.13 L1468.79,697.4 L1471.79,697.68 L1474.79,697.96 L1477.79,698.23 L1480.79,698.51 L1483.79,698.79 L1486.79,699.07 L1489.79,699.35 L1492.79,699.63 L1495.79,699.91 L1498.79,700.19 L1501.79,700.47 L1504.79,700.75 L1507.79,701.04 L1510.79,701.32 L1513.79,701.61 L1516.79,701.89 L1519.79,702.18 L1522.79,702.47 L1525.79,702.76 L1528.79,703.05 L1531.79,703.34 L1534.79,703.63 L1537.79,703.93 L1540.79,704.22 L1543.79,704.52 L1546.79,704.81 L1549.79,705.11 L1552.8,705.41 L1555.8,705.71 L1558.8,706.01 L1561.8,706.32 L1564.8,706.62 L1567.8,706.93 L1570.8,707.23 L1573.8,707.54 L1576.8,707.85 L1579.8,708.16 L1582.8,708.48 L1585.8,708.79 L1588.8,709.11 L1591.8,709.42 L1594.8,709.74 L1597.8,710.06 L1600.8,710.39 L1603.8,710.71 L1606.8,711.03 L1609.8,711.36 L1612.8,711.69 L1615.8,712.02 L1618.8,712.35 L1621.8,712.69 L1624.8,713.02" fill="none" stroke="#d41a1a" stroke-width="1.3"/>
<path d="M154.7,327.31 L157.71,327.39 L160.71,327.49 L163.72,327.6 L166.72,327.71 L169.73,327.83 L172.73,327.96 L175.74,328.1 L178.74,328.25 L181.75,328.41 L184.75,328.58 L187.76,328.77 L190.76,328.96 L193.77,329.17 L196.77,329.39 L199.78,329.62 L202.79,329.86 L205.79,330.12 L208.8,330.39 L211.8,330.68 L214.81,330.98 L217.81,331.3 L220.82,331.63 L223.82,331.97 L226.83,332.34 L229.83,332.72 L232.84,333.11 L235.84,333.53 L238.85,333.96 L241.85,334.41 L244.86,334.88 L247.86,335.37 L250.87,335.87 L253.88,336.4 L256.88,336.95 L259.89,337.51 L262.89,338.1 L265.9,338.71 L268.9,339.34 L271.91,340 L274.91,340.67 L277.92,341.37 L280.92,342.09 L283.93,342.83 L286.93,343.6 L289.94,344.4 L292.94,345.21 L295.95,346.06 L298.96,346.92 L301.96,347.82 L304.97,348.74 L307.97,349.69 L310.98,350.66 L313.98,351.66 L316.99,352.69 L319.99,353.75 L323,354.83 L326,355.95 L329.01,357.09 L332.01,358.27 L335.02,359.47 L338.02,360.71 L341.03,361.97 L344.03,363.25 L347.04,364.55 L350.05,365.87 L353.05,367.2 L356.06,368.54 L359.06,369.88 L362.07,371.21 L365.07,372.55 L368.08,373.88 L371.08,375.19 L374.09,376.49 L377.09,377.77 L380.1,379.02 L383.1,380.25 L386.11,381.44 L389.11,382.6 L392.12,383.72 L395.13,384.8 L398.13,385.83 L401.14,386.81 L404.14,387.73 L407.15,388.6 L410.15,389.4 L413.16,390.13 L416.16,390.8 L419.17,391.39 L422.17,391.9 L425.18,392.33 L428.18,392.68 L431.19,392.93 L434.19,393.09 L437.2,393.15 L440.21,393.11 L443.21,392.97 L446.22,392.72 L449.22,392.35 L452.23,391.86 L455.23,391.26 L458.24,390.55 L461.24,389.75 L464.25,388.88 L467.25,387.94 L470.26,386.96 L473.26,385.94 L476.27,384.91 L479.27,383.88 L482.28,382.86 L485.28,381.87 L488.29,380.93 L491.3,380.04 L494.3,379.22 L497.31,378.5 L500.31,377.87 L503.32,377.37 L506.32,376.99 L509.33,376.77 L512.33,376.71 L515.34,376.82 L518.34,377.11 L521.35,377.57 L524.35,378.21 L527.36,379.02 L530.36,380.01 L533.37,381.17 L536.38,382.51 L539.38,384.03 L542.39,385.72 L545.39,387.58 L548.4,389.61 L551.4,391.78 L554.41,394.08 L557.41,396.51 L560.42,399.05 L563.42,401.68 L566.43,404.41 L569.43,407.2 L572.44,410.07 L575.44,413.02 L578.45,416.08 L581.46,419.3 L584.46,422.71 L587.47,426.35 L590.47,430.23 L593.48,434.35 L596.48,438.71 L599.49,443.31 L602.49,448.12 L605.5,453.11 L608.5,458.25 L611.51,463.51 L614.51,468.84 L617.52,474.22 L620.52,479.64 L623.53,485.07 L626.53,490.51 L629.54,495.96 L632.55,501.39 L635.55,506.8 L638.56,512.19 L641.56,517.53 L644.57,522.82 L647.57,528.05 L650.58,533.22 L653.58,538.3 L656.59,543.29 L659.59,548.17 L662.6,552.95 L665.6,557.62 L668.61,562.17 L671.61,566.61 L674.62,570.93 L677.63,575.15 L680.63,579.24 L683.64,583.22 L686.64,587.09 L689.65,590.84 L692.65,594.48 L695.66,598 L698.66,601.41 L701.67,604.7 L704.67,607.88 L707.68,610.96 L710.68,613.94 L713.69,616.81 L716.69,619.59 L719.7,622.27 L722.7,624.86 L725.71,627.36 L728.72,629.78 L731.72,632.12 L734.73,634.37 L737.73,636.55 L740.74,638.66 L743.74,640.69 L746.75,642.66 L749.75,644.56 L752.76,646.41 L755.76,648.19 L758.77,649.92 L761.77,651.6 L764.78,653.23 L767.78,654.81 L770.79,656.35 L773.8,657.85 L776.8,659.31 L779.81,660.74 L782.81,662.13 L785.82,663.5 L788.82,664.84 L791.83,666.16 L794.83,667.46 L797.84,668.75 L800.84,670.02 L803.85,671.28 L806.85,672.53 L809.86,673.78 L812.86,675.01 L815.87,676.23 L818.88,677.44 L821.88,678.64 L824.89,679.84 L827.89,681.02 L830.9,682.2 L833.9,683.37 L836.91,684.53 L839.91,685.68 L842.92,686.82 L845.92,687.96 L848.93,689.09 L851.93,690.21 L854.94,691.32 L857.94,692.43 L860.95,693.53 L863.95,694.62 L866.96,695.71 L869.97,696.79 L872.97,697.86 L875.98,698.93 L878.98,700 L881.99,701.05 L884.99,702.11 L888,703.15 L891,704.2 L894.01,705.23 L897.01,706.27 L900.02,707.3 L903.02,708.32 L906.03,709.34 L909.03,710.36 L912.04,711.38 L915.05,712.39 L918.05,713.39 L921.06,714.4 L924.06,715.4 L927.07,716.4 L930.07,717.4 L933.08,718.39 L936.08,719.38 L939.09,720.37 L942.09,721.36 L945.1,722.35 L948.1,723.34 L951.11,724.32 L954.11,725.31 L957.12,726.29 L960.12,727.28 L963.13,728.26 L966.14,729.24 L969.14,730.23 L972.15,731.21 L975.15,732.19 L978.16,733.18 L981.16,734.17 L984.17,735.15 L987.17,736.14 L990.18,737.13 L993.18,738.12 L996.19,739.11 L999.19,740.11 L1002.2,741.11 L1005.2,742.11 L1008.21,743.11 L1011.22,744.11 L1014.22,745.12 L1017.23,746.13 L1020.23,747.15 L1023.24,748.17 L1026.24,749.19 L1029.25,750.21 L1032.25,751.24 L1035.26,752.28 L1038.26,753.32 L1041.27,754.36 L1044.27,755.41 L1047.28,756.46 L1050.28,757.52 L1053.29,758.58 L1056.3,759.65 L1059.3,760.72 L1062.31,761.8 L1065.31,762.88 L1068.32,763.96 L1071.32,765.05 L1074.33,766.15 L1077.33,767.24 L1080.34,768.35 L1083.34,769.45 L1086.35,770.56 L1089.35,771.68 L1092.36,772.8 L1095.36,773.92 L1098.37,775.04 L1101.37,776.17 L1104.38,777.31 L1107.39,778.44 L1110.39,779.59 L1113.4,780.73 L1116.4,781.88 L1119.41,783.03 L1122.41,784.19 L1125.42,785.34 L1128.42,786.51 L1131.43,787.67 L1134.43,788.84 L1137.44,790.01 L1140.44,791.19 L1143.45,792.37 L1146.45,793.55 L1149.46,794.73 L1152.47,795.92 L1155.47,797.11 L1158.48,798.3 L1161.48,799.5 L1164.49,800.7 L1167.49,801.9 L1170.5,803.1 L1173.5,804.31 L1176.51,805.52 L1179.51,806.73 L1182.52,807.95 L1185.52,809.16 L1188.53,810.38 L1191.53,811.6 L1194.54,812.83 L1197.54,814.05 L1200.55,815.28 L1203.56,816.51 L1206.56,817.74 L1209.57,818.98 L1212.57,820.21 L1215.58,821.45 L1218.58,822.69 L1221.59,823.93 L1224.59,825.18 L1227.6,826.42 L1230.6,827.67 L1233.61,828.92 L1236.61,830.17 L1239.62,831.42 L1242.62,832.67 L1245.63,833.93 L1248.64,835.18 L1251.64,836.44 L1254.65,837.7 L1257.65,838.96 L1260.66,840.22 L1263.66,841.48 L1266.67,842.74 L1269.67,844.01 L1272.68,845.27 L1275.68,846.54 L1278.69,847.8 L1281.69,849.07 L1284.7,850.34 L1287.7,851.61 L1290.71,852.88 L1293.72,854.15 L1296.72,855.42 L1299.73,856.69 L1302.73,857.96 L1305.74,859.23 L1308.74,860.5 L1311.75,861.77 L1314.75,863.05 L1317.76,864.32 L1320.76,865.59 L1323.77,866.87 L1326.77,868.14 L1329.78,869.41 L1332.78,870.69 L1335.79,871.96 L1338.79,873.24 L1341.8,874.51 L1344.81,875.79 L1347.81,877.06 L1350.82,878.34 L1353.82,879.61 L1356.83,880.89 L1359.83,882.16 L1362.84,883.44 L1365.84,884.71 L1368.85,885.99 L1371.85,887.27 L1374.86,888.54 L1377.86,889.82 L1380.87,891.09 L1383.87,892.37 L1386.88,893.65 L1389.89,894.92 L1392.89,896.2 L1395.9,897.48 L1398.9,898.75 L1401.91,900.03 L1404.91,901.31 L1407.92,902.58 L1410.92,903.86 L1413.93,905.14 L1416.93,906.41 L1419.94,907.69 L1422.94,908.97 L1425.95,910.24 L1428.95,911.52 L1431.96,912.8 L1434.97,914.07 L1437.97,915.35 L1440.98,916.63 L1443.98,917.9 L1446.99,919.18 L1449.99,920.46 L1453,921.73 L1456,923.01 L1459.01,924.28 L1462.01,925.56 L1465.02,926.83 L1468.02,928.11 L1471.03,929.38 L1474.03,930.66 L1477.04,931.93 L1480.04,933.21 L1483.05,934.48 L1486.06,935.76 L1489.06,937.03 L1492.07,938.31 L1495.07,939.58 L1498.08,940.85 L1501.08,942.13 L1504.09,943.4 L1507.09,944.67 L1510.1,945.94 L1513.1,947.22 L1516.11,948.49 L1519.11,949.76 L1522.12,951.03 L1525.12,952.3 L1528.13,953.57 L1531.14,954.84 L1534.14,956.11 L1537.15,957.38 L1540.15,958.65 L1543.16,959.92 L1546.16,961.19 L1549.17,962.46 L1552.17,963.72 L1555.18,964.99 L1558.18,966.26 L1561.19,967.52 L1564.19,968.79 L1567.2,970.06 L1570.2,971.32 L1573.21,972.59 L1576.21,973.85 L1579.22,975.11 L1582.23,976.38 L1585.23,977.64 L1588.24,978.9 L1591.24,980.17 L1594.25,981.43 L1597.25,982.69 L1600.26,983.95 L1603.26,985.21 L1606.27,986.47 L1609.27,987.73 L1612.28,988.99 L1615.28,990.24 L1618.29,991.5 L1621.29,992.76 L1624.3,994.01" fill="none" stroke="#d41a1a" stroke-width="1.3"/>
<path d="M154.7,216.22 L157.7,217.72 L160.7,219.23 L163.7,220.75 L166.7,222.28 L169.7,223.81 L172.7,225.35 L175.7,226.89 L178.7,228.44 L181.7,230 L184.7,231.56 L187.7,233.13 L190.7,234.7 L193.7,236.27 L196.7,237.85 L199.7,239.44 L202.7,241.03 L205.7,242.62 L208.7,244.22 L211.7,245.82 L214.7,247.42 L217.7,249.03 L220.7,250.64 L223.7,252.25 L226.7,253.86 L229.71,255.47 L232.71,257.09 L235.71,258.71 L238.71,260.33 L241.71,261.95 L244.71,263.57 L247.71,265.19 L250.71,266.81 L253.71,268.43 L256.71,270.05 L259.71,271.67 L262.71,273.29 L265.71,274.91 L268.71,276.53 L271.71,278.15 L274.71,279.76 L277.71,281.37 L280.71,282.98 L283.71,284.59 L286.71,286.2 L289.71,287.8 L292.71,289.4 L295.71,290.99 L298.71,292.58 L301.71,294.17 L304.71,295.76 L307.71,297.34 L310.71,298.91 L313.71,300.48 L316.71,302.05 L319.71,303.61 L322.71,305.16 L325.71,306.71 L328.71,308.25 L331.71,309.79 L334.71,311.32 L337.71,312.84 L340.71,314.36 L343.71,315.87 L346.71,317.36 L349.71,318.84 L352.71,320.31 L355.71,321.76 L358.71,323.2 L361.71,324.62 L364.71,326.02 L367.71,327.4 L370.71,328.75 L373.71,330.09 L376.72,331.39 L379.72,332.67 L382.72,333.92 L385.72,335.14 L388.72,336.34 L391.72,337.49 L394.72,338.62 L397.72,339.71 L400.72,340.76 L403.72,341.77 L406.72,342.75 L409.72,343.68 L412.72,344.57 L415.72,345.41 L418.72,346.21 L421.72,346.97 L424.72,347.67 L427.72,348.33 L430.72,348.93 L433.72,349.48 L436.72,349.99 L439.72,350.46 L442.72,350.88 L445.72,351.27 L448.72,351.63 L451.72,351.96 L454.72,352.27 L457.72,352.55 L460.72,352.81 L463.72,353.06 L466.72,353.3 L469.72,353.52 L472.72,353.75 L475.72,353.97 L478.72,354.2 L481.72,354.44 L484.72,354.69 L487.72,354.98 L490.72,355.3 L493.72,355.68 L496.72,356.1 L499.72,356.6 L502.72,357.16 L505.72,357.81 L508.72,358.55 L511.72,359.39 L514.72,360.34 L517.72,361.4 L520.72,362.6 L523.73,363.92 L526.73,365.4 L529.73,367.02 L532.73,368.79 L535.73,370.71 L538.73,372.79 L541.73,375.02 L544.73,377.4 L547.73,379.95 L550.73,382.64 L553.73,385.5 L556.73,388.52 L559.73,391.69 L562.73,395 L565.73,398.43 L568.73,401.98 L571.73,405.62 L574.73,409.35 L577.73,413.14 L580.73,416.99 L583.73,420.87 L586.73,424.78 L589.73,428.71 L592.73,432.68 L595.73,436.7 L598.73,440.81 L601.73,445.01 L604.73,449.27 L607.73,453.58 L610.73,457.92 L613.73,462.25 L616.73,466.57 L619.73,470.85 L622.73,475.11 L625.73,479.34 L628.73,483.55 L631.73,487.73 L634.73,491.88 L637.73,496.01 L640.73,500.1 L643.73,504.17 L646.73,508.19 L649.73,512.18 L652.73,516.12 L655.73,520.02 L658.73,523.87 L661.73,527.67 L664.73,531.41 L667.73,535.09 L670.74,538.72 L673.74,542.27 L676.74,545.77 L679.74,549.18 L682.74,552.53 L685.74,555.8 L688.74,558.99 L691.74,562.09 L694.74,565.11 L697.74,568.04 L700.74,570.88 L703.74,573.64 L706.74,576.32 L709.74,578.91 L712.74,581.43 L715.74,583.87 L718.74,586.25 L721.74,588.55 L724.74,590.79 L727.74,592.96 L730.74,595.07 L733.74,597.12 L736.74,599.12 L739.74,601.06 L742.74,602.95 L745.74,604.8 L748.74,606.6 L751.74,608.35 L754.74,610.07 L757.74,611.74 L760.74,613.39 L763.74,615 L766.74,616.58 L769.74,618.13 L772.74,619.65 L775.74,621.15 L778.74,622.62 L781.74,624.06 L784.74,625.48 L787.74,626.87 L790.74,628.24 L793.74,629.59 L796.74,630.91 L799.74,632.21 L802.74,633.48 L805.74,634.73 L808.74,635.96 L811.74,637.17 L814.74,638.36 L817.75,639.53 L820.75,640.68 L823.75,641.81 L826.75,642.92 L829.75,644.01 L832.75,645.08 L835.75,646.14 L838.75,647.18 L841.75,648.2 L844.75,649.21 L847.75,650.2 L850.75,651.18 L853.75,652.14 L856.75,653.09 L859.75,654.02 L862.75,654.95 L865.75,655.86 L868.75,656.75 L871.75,657.64 L874.75,658.52 L877.75,659.38 L880.75,660.23 L883.75,661.08 L886.75,661.92 L889.75,662.74 L892.75,663.56 L895.75,664.38 L898.75,665.18 L901.75,665.98 L904.75,666.77 L907.75,667.56 L910.75,668.34 L913.75,669.12 L916.75,669.89 L919.75,670.66 L922.75,671.42 L925.75,672.19 L928.75,672.95 L931.75,673.71 L934.75,674.46 L937.75,675.22 L940.75,675.98 L943.75,676.74 L946.75,677.49 L949.75,678.25 L952.75,679.01 L955.75,679.77 L958.75,680.53 L961.75,681.3 L964.76,682.06 L967.76,682.82 L970.76,683.59 L973.76,684.35 L976.76,685.11 L979.76,685.88 L982.76,686.65 L985.76,687.41 L988.76,688.18 L991.76,688.95 L994.76,689.72 L997.76,690.49 L1000.76,691.26 L1003.76,692.03 L1006.76,692.8 L1009.76,693.57 L1012.76,694.35 L1015.76,695.12 L1018.76,695.89 L1021.76,696.67 L1024.76,697.44 L1027.76,698.22 L1030.76,698.99 L1033.76,699.77 L1036.76,700.55 L1039.76,701.32 L1042.76,702.1 L1045.76,702.88 L1048.76,703.66 L1051.76,704.44 L1054.76,705.22 L1057.76,706 L1060.76,706.78 L1063.76,707.56 L1066.76,708.34 L1069.76,709.12 L1072.76,709.91 L1075.76,710.69 L1078.76,711.47 L1081.76,712.26 L1084.76,713.04 L1087.76,713.82 L1090.76,714.61 L1093.76,715.39 L1096.76,716.18 L1099.76,716.97 L1102.76,717.75 L1105.76,718.54 L1108.76,719.33 L1111.77,720.11 L1114.77,720.9 L1117.77,721.69 L1120.77,722.48 L1123.77,723.27 L1126.77,724.06 L1129.77,724.85 L1132.77,725.63 L1135.77,726.42 L1138.77,727.21 L1141.77,728.01 L1144.77,728.8 L1147.77,729.59 L1150.77,730.38 L1153.77,731.17 L1156.77,731.96 L1159.77,732.75 L1162.77,733.54 L1165.77,734.34 L1168.77,735.13 L1171.77,735.92 L1174.77,736.71 L1177.77,737.51 L1180.77,738.3 L1183.77,739.09 L1186.77,739.89 L1189.77,740.68 L1192.77,741.47 L1195.77,742.27 L1198.77,743.06 L1201.77,743.86 L1204.77,744.65 L1207.77,745.44 L1210.77,746.24 L1213.77,747.03 L1216.77,747.83 L1219.77,748.62 L1222.77,749.42 L1225.77,750.21 L1228.77,751.01 L1231.77,751.8 L1234.77,752.6 L1237.77,753.39 L1240.77,754.19 L1243.77,754.98 L1246.77,755.78 L1249.77,756.57 L1252.77,757.36 L1255.77,758.16 L1258.78,758.95 L1261.78,759.75 L1264.78,760.54 L1267.78,761.34 L1270.78,762.13 L1273.78,762.93 L1276.78,763.72 L1279.78,764.52 L1282.78,765.31 L1285.78,766.1 L1288.78,766.9 L1291.78,767.69 L1294.78,768.49 L1297.78,769.28 L1300.78,770.07 L1303.78,770.87 L1306.78,771.66 L1309.78,772.45 L1312.78,773.25 L1315.78,774.04 L1318.78,774.83 L1321.78,775.62 L1324.78,776.42 L1327.78,777.21 L1330.78,778 L1333.78,778.79 L1336.78,779.58 L1339.78,780.37 L1342.78,781.17 L1345.78,781.96 L1348.78,782.75 L1351.78,783.54 L1354.78,784.33 L1357.78,785.12 L1360.78,785.91 L1363.78,786.69 L1366.78,787.48 L1369.78,788.27 L1372.78,789.06 L1375.78,789.85 L1378.78,790.64 L1381.78,791.42 L1384.78,792.21 L1387.78,793 L1390.78,793.78 L1393.78,794.57 L1396.78,795.35 L1399.78,796.14 L1402.78,796.92 L1405.79,797.71 L1408.79,798.49 L1411.79,799.27 L1414.79,800.06 L1417.79,800.84 L1420.79,801.62 L1423.79,802.4 L1426.79,803.19 L1429.79,803.97 L1432.79,804.75 L1435.79,805.53 L1438.79,806.31 L1441.79,807.09 L1444.79,807.86 L1447.79,808.64 L1450.79,809.42 L1453.79,810.2 L1456.79,810.97 L1459.79,811.75 L1462.79,812.52 L1465.79,813.3 L1468.79,814.07 L1471.79,814.85 L1474.79,815.62 L1477.79,816.39 L1480.79,817.17 L1483.79,817.94 L1486.79,818.71 L1489.79,819.48 L1492.79,820.25 L1495.79,821.02 L1498.79,821.79 L1501.79,822.55 L1504.79,823.32 L1507.79,824.09 L1510.79,824.85 L1513.79,825.62 L1516.79,826.38 L1519.79,827.15 L1522.79,827.91 L1525.79,828.67 L1528.79,829.43 L1531.79,830.2 L1534.79,830.96 L1537.79,831.72 L1540.79,832.47 L1543.79,833.23 L1546.79,833.99 L1549.79,834.75 L1552.8,835.5 L1555.8,836.26 L1558.8,837.01 L1561.8,837.77 L1564.8,838.52 L1567.8,839.27 L1570.8,840.02 L1573.8,840.77 L1576.8,841.52 L1579.8,842.27 L1582.8,843.02 L1585.8,843.77 L1588.8,844.51 L1591.8,845.26 L1594.8,846 L1597.8,846.75 L1600.8,847.49 L1603.8,848.23 L1606.8,848.97 L1609.8,849.71 L1612.8,850.45 L1615.8,851.19 L1618.8,851.93 L1621.8,852.67 L1624.8,853.4" fill="none" stroke="#e00000" stroke-width="2.7" stroke-linecap="round"/>
<line x1="96.9" y1="424.3" x2="1683.1" y2="424.3" stroke="#111" stroke-width="1.3" stroke-dasharray="5.2 4.3"/>
<line x1="586.1" y1="59.9" x2="586.1" y2="1030" stroke="#111" stroke-width="1.4" stroke-dasharray="5.2 4.3"/>
<rect x="96.9" y="59.9" width="1586.2" height="970.1" fill="none" stroke="#222" stroke-width="1.6"/>
<path d="M84.7,994H96.9M84.7,737.53H96.9M84.7,481.07H96.9M84.7,224.6H96.9M1683.1,228.2H1695.3M1683.1,424.38H1695.3M1683.1,620.55H1695.3M1683.1,816.72H1695.3M1683.1,1012.9H1695.3M465.1,1030V1042M844,1030V1042M1222.9,1030V1042M1601.8,1030V1042" stroke="#222" stroke-width="1.5" fill="none"/>
<g class="lab"><text x="72.5" y="1002" text-anchor="end">0.000</text><text x="72.5" y="745.53" text-anchor="end">0.005</text><text x="72.5" y="489.07" text-anchor="end">0.010</text><text x="72.5" y="232.6" text-anchor="end">0.015</text><text x="1705.7" y="235.4">10</text><text x="1705.7" y="431.57">0</text><text x="1705.7" y="627.75">-10</text><text x="1705.7" y="823.92">-20</text><text x="1705.7" y="1020.1">-30</text><text x="465.1" y="1073" text-anchor="middle">50</text><text x="844" y="1073" text-anchor="middle">100</text><text x="1222.9" y="1073" text-anchor="middle">150</text><text x="1601.8" y="1073" text-anchor="middle">200</text></g>
<text class="lab" transform="translate(21.6,544.95) rotate(-90)" text-anchor="middle">Density</text>
<text class="lab" transform="translate(1774,544.95) rotate(-90)" text-anchor="middle">PHR</text>
<text class="lab" x="890" y="1120.3" text-anchor="middle">Serum total 25(OH)D concentrations (nmol/L)</text>
<text class="lab" x="1172.6" y="130.8">P-nonlinear &lt; 0.001</text>
<text class="let" x="95.3" y="31.8">A</text>
<path d="M139.19,2125.6V2123.7H154.23V2125.6ZM154.23,2125.6V2113.7H169.28V2125.6ZM169.28,2125.6V2107H184.32V2125.6ZM184.32,2125.6V2082.9H199.36V2125.6ZM199.36,2125.6V2053.4H214.41V2125.6ZM214.41,2125.6V2037.6H229.45V2125.6ZM229.45,2125.6V1992H244.5V2125.6ZM244.5,2125.6V1957H259.54V2125.6ZM259.54,2125.6V1923.1H274.58V2125.6ZM274.58,2125.6V1888H289.63V2125.6ZM289.63,2125.6V1818.7H304.67V2125.6ZM304.67,2125.6V1810.7H319.72V2125.6ZM319.72,2125.6V1746.7H334.76V2125.6ZM334.76,2125.6V1719.8H349.8V2125.6ZM349.8,2125.6V1736.2H364.85V2125.6ZM364.85,2125.6V1667.5H379.89V2125.6ZM379.89,2125.6V1602.5H394.94V2125.6ZM394.94,2125.6V1628.2H409.98V2125.6ZM409.98,2125.6V1561.4H425.02V2125.6ZM425.02,2125.6V1525.3H440.07V2125.6ZM440.07,2125.6V1475H455.11V2125.6ZM455.11,2125.6V1460.6H470.16V2125.6ZM470.16,2125.6V1389.9H485.2V2125.6ZM485.2,2125.6V1359.1H500.24V2125.6ZM500.24,2125.6V1353.5H515.29V2125.6ZM515.29,2125.6V1338.2H530.33V2125.6ZM530.33,2125.6V1299H545.38V2125.6ZM545.38,2125.6V1229.1H560.42V2125.6ZM560.42,2125.6V1273.9H575.46V2125.6ZM575.46,2125.6V1234.1H590.51V2125.6ZM590.51,2125.6V1288.5H605.55V2125.6ZM605.55,2125.6V1276.2H620.6V2125.6ZM620.6,2125.6V1279.2H635.64V2125.6ZM635.64,2125.6V1349.1H650.68V2125.6ZM650.68,2125.6V1388.1H665.73V2125.6ZM665.73,2125.6V1410.6H680.77V2125.6ZM680.77,2125.6V1454H695.82V2125.6ZM695.82,2125.6V1488.9H710.86V2125.6ZM710.86,2125.6V1557.5H725.9V2125.6ZM725.9,2125.6V1587.4H740.95V2125.6ZM740.95,2125.6V1580.3H755.99V2125.6ZM755.99,2125.6V1655.3H771.04V2125.6ZM771.04,2125.6V1705H786.08V2125.6ZM786.08,2125.6V1760.6H801.12V2125.6ZM801.12,2125.6V1768.2H816.17V2125.6ZM816.17,2125.6V1818.9H831.21V2125.6ZM831.21,2125.6V1853.3H846.26V2125.6ZM846.26,2125.6V1856H861.3V2125.6ZM861.3,2125.6V1914.3H876.34V2125.6ZM876.34,2125.6V1917.8H891.39V2125.6ZM891.39,2125.6V1934.1H906.43V2125.6ZM906.43,2125.6V1962.3H921.48V2125.6ZM921.48,2125.6V1984.2H936.52V2125.6ZM936.52,2125.6V2011.1H951.56V2125.6ZM951.56,2125.6V2032.2H966.61V2125.6ZM966.61,2125.6V1995.2H981.65V2125.6ZM981.65,2125.6V2040.4H996.7V2125.6ZM996.7,2125.6V2029.3H1011.74V2125.6ZM1011.74,2125.6V2065.9H1026.78V2125.6ZM1026.78,2125.6V2055.9H1041.83V2125.6ZM1041.83,2125.6V2053H1056.87V2125.6ZM1056.87,2125.6V2070.6H1071.92V2125.6ZM1071.92,2125.6V2068.5H1086.96V2125.6ZM1086.96,2125.6V2089H1102V2125.6ZM1102,2125.6V2076.2H1117.05V2125.6ZM1117.05,2125.6V2082.2H1132.09V2125.6ZM1132.09,2125.6V2078.2H1147.14V2125.6ZM1147.14,2125.6V2094.9H1162.18V2125.6ZM1162.18,2125.6V2112H1177.22V2125.6ZM1177.22,2125.6V2092H1192.27V2125.6ZM1192.27,2125.6V2097H1207.31V2125.6ZM1207.31,2125.6V2077.2H1222.36V2125.6ZM1222.36,2125.6V2100.2H1237.4V2125.6ZM1237.4,2125.6V2115.8H1252.44V2125.6ZM1252.44,2125.6V2114.1H1267.49V2125.6ZM1267.49,2125.6V2120.2H1282.53V2125.6ZM1282.53,2125.6V2123H1297.58V2125.6ZM1297.58,2125.6V2124.4H1312.62V2125.6ZM1312.62,2125.6V2116H1327.66V2125.6ZM1327.66,2125.6V2112.1H1342.71V2125.6ZM1342.71,2125.6V2114.1H1357.75V2125.6ZM1357.75,2125.6V2120.1H1372.8V2125.6ZM1372.8,2125.6V2114.7H1387.84V2125.6ZM1387.84,2125.6V2116H1402.88V2125.6ZM1432.97,2125.6V2123.3H1448.02V2125.6ZM1478.1,2125.6V2124.3H1493.15V2125.6ZM1493.15,2125.6V2123.1H1508.19V2125.6ZM1508.19,2125.6V2125H1523.24V2125.6ZM1523.24,2125.6V2121H1538.28V2125.6ZM1553.32,2125.6V2123.2H1568.37V2125.6ZM1568.37,2125.6V2123.2H1583.41V2125.6ZM1583.41,2125.6V2121H1598.46V2125.6ZM1613.5,2125.6V2124.4H1628.54V2125.6ZM1628.54,2125.6V2125H1643.59V2125.6ZM1643.59,2125.6V2124.4H1658.63V2125.6Z" fill="#87CEEB" stroke="none"/>
<path d="M139.19,2127V2122.7M154.23,2127V2112.7M169.28,2127V2106M184.32,2127V2081.9M199.36,2127V2052.4M214.41,2127V2036.6M229.45,2127V1991M244.5,2127V1956M259.54,2127V1922.1M274.58,2127V1887M289.63,2127V1817.7M304.67,2127V1809.7M319.72,2127V1745.7M334.76,2127V1718.8M349.8,2127V1718.8M364.85,2127V1666.5M379.89,2127V1601.5M394.94,2127V1601.5M409.98,2127V1560.4M425.02,2127V1524.3M440.07,2127V1474M455.11,2127V1459.6M470.16,2127V1388.9M485.2,2127V1358.1M500.24,2127V1352.5M515.29,2127V1337.2M530.33,2127V1298M545.38,2127V1228.1M560.42,2127V1228.1M575.46,2127V1233.1M590.51,2127V1233.1M605.55,2127V1275.2M620.6,2127V1275.2M635.64,2127V1278.2M650.68,2127V1348.1M665.73,2127V1387.1M680.77,2127V1409.6M695.82,2127V1453M710.86,2127V1487.9M725.9,2127V1556.5M740.95,2127V1579.3M755.99,2127V1579.3M771.04,2127V1654.3M786.08,2127V1704M801.12,2127V1759.6M816.17,2127V1767.2M831.21,2127V1817.9M846.26,2127V1852.3M861.3,2127V1855M876.34,2127V1913.3M891.39,2127V1916.8M906.43,2127V1933.1M921.48,2127V1961.3M936.52,2127V1983.2M951.56,2127V2010.1M966.61,2127V1994.2M981.65,2127V1994.2M996.7,2127V2028.3M1011.74,2127V2028.3M1026.78,2127V2054.9M1041.83,2127V2052M1056.87,2127V2052M1071.92,2127V2067.5M1086.96,2127V2067.5M1102,2127V2075.2M1117.05,2127V2075.2M1132.09,2127V2077.2M1147.14,2127V2077.2M1162.18,2127V2093.9M1177.22,2127V2091M1192.27,2127V2091M1207.31,2127V2076.2M1222.36,2127V2076.2M1237.4,2127V2099.2M1252.44,2127V2113.1M1267.49,2127V2113.1M1282.53,2127V2119.2M1297.58,2127V2122M1312.62,2127V2115M1327.66,2127V2111.1M1342.71,2127V2111.1M1357.75,2127V2113.1M1372.8,2127V2113.7M1387.84,2127V2113.7M1402.88,2127V2115M1432.97,2127V2122.3M1448.02,2127V2122.3M1478.1,2127V2123.3M1493.15,2127V2122.1M1508.19,2127V2122.1M1523.24,2127V2120M1538.28,2127V2120M1553.32,2127V2122.2M1568.37,2127V2122.2M1583.41,2127V2120M1598.46,2127V2120M1613.5,2127V2123.4M1628.54,2127V2123.4M1643.59,2127V2123.4M1658.63,2127V2123.4" stroke="#fff" stroke-width="1.6" fill="none"/>
<path d="M157.9,1238.79 L160.9,1240.35 L163.9,1241.9 L166.9,1243.44 L169.9,1244.97 L172.91,1246.49 L175.91,1247.99 L178.91,1249.48 L181.91,1250.96 L184.91,1252.43 L187.91,1253.88 L190.91,1255.31 L193.91,1256.73 L196.92,1258.13 L199.92,1259.52 L202.92,1260.88 L205.92,1262.23 L208.92,1263.56 L211.92,1264.86 L214.92,1266.15 L217.92,1267.41 L220.93,1268.66 L223.93,1269.87 L226.93,1271.07 L229.93,1272.24 L232.93,1273.38 L235.93,1274.5 L238.93,1275.59 L241.93,1276.65 L244.94,1277.69 L247.94,1278.69 L250.94,1279.67 L253.94,1280.62 L256.94,1281.53 L259.94,1282.42 L262.94,1283.27 L265.94,1284.08 L268.95,1284.87 L271.95,1285.62 L274.95,1286.33 L277.95,1287.01 L280.95,1287.65 L283.95,1288.26 L286.95,1288.82 L289.95,1289.35 L292.96,1289.84 L295.96,1290.29 L298.96,1290.69 L301.96,1291.06 L304.96,1291.38 L307.96,1291.66 L310.96,1291.9 L313.96,1292.09 L316.96,1292.24 L319.97,1292.34 L322.97,1292.39 L325.97,1292.41 L328.97,1292.39 L331.97,1292.34 L334.97,1292.26 L337.97,1292.15 L340.97,1292.03 L343.98,1291.89 L346.98,1291.74 L349.98,1291.59 L352.98,1291.43 L355.98,1291.27 L358.98,1291.12 L361.98,1290.98 L364.98,1290.86 L367.99,1290.76 L370.99,1290.67 L373.99,1290.62 L376.99,1290.6 L379.99,1290.61 L382.99,1290.67 L385.99,1290.76 L388.99,1290.91 L392,1291.11 L395,1291.37 L398,1291.69 L401,1292.08 L404,1292.53 L407,1293.06 L410,1293.67 L413,1294.36 L416.01,1295.14 L419.01,1296.01 L422.01,1296.98 L425.01,1298.04 L428.01,1299.21 L431.01,1300.49 L434.01,1301.88 L437.01,1303.39 L440.02,1305.02 L443.02,1306.77 L446.02,1308.65 L449.02,1310.67 L452.02,1312.81 L455.02,1315.07 L458.02,1317.44 L461.02,1319.92 L464.02,1322.49 L467.03,1325.16 L470.03,1327.92 L473.03,1330.76 L476.03,1333.67 L479.03,1336.64 L482.03,1339.68 L485.03,1342.77 L488.03,1345.91 L491.04,1349.09 L494.04,1352.31 L497.04,1355.55 L500.04,1358.82 L503.04,1362.1 L506.04,1365.39 L509.04,1368.69 L512.04,1371.98 L515.05,1375.25 L518.05,1378.52 L521.05,1381.76 L524.05,1384.96 L527.05,1388.14 L530.05,1391.27 L533.05,1394.38 L536.05,1397.49 L539.06,1400.61 L542.06,1403.78 L545.06,1407.02 L548.06,1410.34 L551.06,1413.77 L554.06,1417.33 L557.06,1421.04 L560.06,1424.93 L563.07,1429.01 L566.07,1433.32 L569.07,1437.87 L572.07,1442.71 L575.07,1447.87 L578.07,1453.22 L581.07,1458.49 L584.07,1463.35 L587.08,1467.61 L590.08,1471.32 L593.08,1474.57 L596.08,1477.45 L599.08,1480.06 L602.08,1482.47 L605.08,1484.78 L608.08,1487.08 L611.08,1489.4 L614.09,1491.75 L617.09,1494.11 L620.09,1496.49 L623.09,1498.88 L626.09,1501.29 L629.09,1503.71 L632.09,1506.14 L635.09,1508.58 L638.1,1511.02 L641.1,1513.47 L644.1,1515.92 L647.1,1518.38 L650.1,1520.83 L653.1,1523.29 L656.1,1525.74 L659.1,1528.18 L662.11,1530.62 L665.11,1533.05 L668.11,1535.47 L671.11,1537.88 L674.11,1540.27 L677.11,1542.65 L680.11,1545.01 L683.11,1547.35 L686.12,1549.67 L689.12,1551.97 L692.12,1554.25 L695.12,1556.5 L698.12,1558.73 L701.12,1560.92 L704.12,1563.08 L707.12,1565.22 L710.13,1567.32 L713.13,1569.38 L716.13,1571.42 L719.13,1573.43 L722.13,1575.4 L725.13,1577.35 L728.13,1579.26 L731.13,1581.15 L734.14,1583.01 L737.14,1584.85 L740.14,1586.66 L743.14,1588.44 L746.14,1590.2 L749.14,1591.93 L752.14,1593.64 L755.14,1595.33 L758.14,1596.99 L761.15,1598.64 L764.15,1600.26 L767.15,1601.86 L770.15,1603.44 L773.15,1605.01 L776.15,1606.55 L779.15,1608.08 L782.15,1609.58 L785.16,1611.08 L788.16,1612.55 L791.16,1614.01 L794.16,1615.45 L797.16,1616.87 L800.16,1618.28 L803.16,1619.67 L806.16,1621.04 L809.17,1622.4 L812.17,1623.74 L815.17,1625.07 L818.17,1626.38 L821.17,1627.68 L824.17,1628.96 L827.17,1630.23 L830.17,1631.49 L833.18,1632.73 L836.18,1633.96 L839.18,1635.17 L842.18,1636.37 L845.18,1637.56 L848.18,1638.73 L851.18,1639.89 L854.18,1641.04 L857.19,1642.18 L860.19,1643.3 L863.19,1644.41 L866.19,1645.52 L869.19,1646.61 L872.19,1647.68 L875.19,1648.75 L878.19,1649.81 L881.2,1650.86 L884.2,1651.89 L887.2,1652.92 L890.2,1653.94 L893.2,1654.94 L896.2,1655.94 L899.2,1656.93 L902.2,1657.91 L905.2,1658.88 L908.21,1659.84 L911.21,1660.8 L914.21,1661.74 L917.21,1662.68 L920.21,1663.61 L923.21,1664.53 L926.21,1665.45 L929.21,1666.36 L932.22,1667.26 L935.22,1668.16 L938.22,1669.05 L941.22,1669.93 L944.22,1670.81 L947.22,1671.68 L950.22,1672.54 L953.22,1673.4 L956.23,1674.25 L959.23,1675.09 L962.23,1675.93 L965.23,1676.77 L968.23,1677.59 L971.23,1678.41 L974.23,1679.23 L977.23,1680.04 L980.24,1680.84 L983.24,1681.64 L986.24,1682.44 L989.24,1683.23 L992.24,1684.01 L995.24,1684.79 L998.24,1685.56 L1001.24,1686.32 L1004.25,1687.09 L1007.25,1687.84 L1010.25,1688.6 L1013.25,1689.34 L1016.25,1690.09 L1019.25,1690.82 L1022.25,1691.56 L1025.25,1692.28 L1028.26,1693.01 L1031.26,1693.73 L1034.26,1694.44 L1037.26,1695.15 L1040.26,1695.86 L1043.26,1696.56 L1046.26,1697.26 L1049.26,1697.95 L1052.26,1698.64 L1055.27,1699.33 L1058.27,1700.01 L1061.27,1700.69 L1064.27,1701.36 L1067.27,1702.03 L1070.27,1702.7 L1073.27,1703.36 L1076.27,1704.02 L1079.28,1704.68 L1082.28,1705.33 L1085.28,1705.98 L1088.28,1706.63 L1091.28,1707.27 L1094.28,1707.91 L1097.28,1708.55 L1100.28,1709.19 L1103.29,1709.82 L1106.29,1710.45 L1109.29,1711.07 L1112.29,1711.7 L1115.29,1712.32 L1118.29,1712.93 L1121.29,1713.55 L1124.29,1714.16 L1127.3,1714.77 L1130.3,1715.38 L1133.3,1715.99 L1136.3,1716.59 L1139.3,1717.2 L1142.3,1717.8 L1145.3,1718.39 L1148.3,1718.99 L1151.31,1719.58 L1154.31,1720.18 L1157.31,1720.77 L1160.31,1721.36 L1163.31,1721.94 L1166.31,1722.53 L1169.31,1723.12 L1172.31,1723.7 L1175.32,1724.28 L1178.32,1724.86 L1181.32,1725.44 L1184.32,1726.02 L1187.32,1726.6 L1190.32,1727.17 L1193.32,1727.75 L1196.32,1728.33 L1199.32,1728.9 L1202.33,1729.47 L1205.33,1730.05 L1208.33,1730.62 L1211.33,1731.19 L1214.33,1731.76 L1217.33,1732.33 L1220.33,1732.9 L1223.33,1733.47 L1226.34,1734.04 L1229.34,1734.61 L1232.34,1735.18 L1235.34,1735.75 L1238.34,1736.32 L1241.34,1736.89 L1244.34,1737.47 L1247.34,1738.04 L1250.35,1738.61 L1253.35,1739.18 L1256.35,1739.75 L1259.35,1740.32 L1262.35,1740.9 L1265.35,1741.47 L1268.35,1742.05 L1271.35,1742.62 L1274.36,1743.2 L1277.36,1743.78 L1280.36,1744.35 L1283.36,1744.93 L1286.36,1745.51 L1289.36,1746.09 L1292.36,1746.67 L1295.36,1747.25 L1298.37,1747.83 L1301.37,1748.41 L1304.37,1748.99 L1307.37,1749.57 L1310.37,1750.16 L1313.37,1750.74 L1316.37,1751.32 L1319.37,1751.91 L1322.38,1752.49 L1325.38,1753.07 L1328.38,1753.66 L1331.38,1754.24 L1334.38,1754.83 L1337.38,1755.41 L1340.38,1756 L1343.38,1756.58 L1346.38,1757.17 L1349.39,1757.75 L1352.39,1758.34 L1355.39,1758.92 L1358.39,1759.51 L1361.39,1760.09 L1364.39,1760.68 L1367.39,1761.26 L1370.39,1761.85 L1373.4,1762.43 L1376.4,1763.02 L1379.4,1763.6 L1382.4,1764.19 L1385.4,1764.77 L1388.4,1765.36 L1391.4,1765.94 L1394.4,1766.52 L1397.41,1767.11 L1400.41,1767.69 L1403.41,1768.27 L1406.41,1768.85 L1409.41,1769.44 L1412.41,1770.02 L1415.41,1770.6 L1418.41,1771.18 L1421.42,1771.76 L1424.42,1772.34 L1427.42,1772.92 L1430.42,1773.5 L1433.42,1774.08 L1436.42,1774.65 L1439.42,1775.23 L1442.42,1775.81 L1445.43,1776.38 L1448.43,1776.96 L1451.43,1777.53 L1454.43,1778.1 L1457.43,1778.68 L1460.43,1779.25 L1463.43,1779.82 L1466.43,1780.39 L1469.44,1780.96 L1472.44,1781.53 L1475.44,1782.09 L1478.44,1782.66 L1481.44,1783.23 L1484.44,1783.79 L1487.44,1784.36 L1490.44,1784.92 L1493.44,1785.48 L1496.45,1786.04 L1499.45,1786.6 L1502.45,1787.16 L1505.45,1787.72 L1508.45,1788.27 L1511.45,1788.83 L1514.45,1789.38 L1517.45,1789.93 L1520.46,1790.48 L1523.46,1791.03 L1526.46,1791.58 L1529.46,1792.13 L1532.46,1792.68 L1535.46,1793.22 L1538.46,1793.76 L1541.46,1794.31 L1544.47,1794.85 L1547.47,1795.39 L1550.47,1795.92 L1553.47,1796.46 L1556.47,1796.99 L1559.47,1797.53 L1562.47,1798.06 L1565.47,1798.59 L1568.48,1799.12 L1571.48,1799.64 L1574.48,1800.17 L1577.48,1800.69 L1580.48,1801.21 L1583.48,1801.73 L1586.48,1802.25 L1589.48,1802.76 L1592.49,1803.28 L1595.49,1803.79 L1598.49,1804.3 L1601.49,1804.81 L1604.49,1805.32 L1607.49,1805.82 L1610.49,1806.33 L1613.49,1806.83 L1616.5,1807.33 L1619.5,1807.82 L1622.5,1808.32 L1625.5,1808.81 L1628.5,1809.3 L1628.6,2126.52 L1625.6,2124.99 L1622.6,2123.46 L1619.6,2121.91 L1616.59,2120.36 L1613.59,2118.8 L1610.59,2117.24 L1607.59,2115.66 L1604.59,2114.09 L1601.59,2112.5 L1598.59,2110.91 L1595.58,2109.31 L1592.58,2107.7 L1589.58,2106.09 L1586.58,2104.47 L1583.58,2102.85 L1580.58,2101.22 L1577.58,2099.59 L1574.57,2097.95 L1571.57,2096.31 L1568.57,2094.66 L1565.57,2093.01 L1562.57,2091.36 L1559.57,2089.7 L1556.57,2088.03 L1553.56,2086.36 L1550.56,2084.69 L1547.56,2083.02 L1544.56,2081.34 L1541.56,2079.66 L1538.56,2077.97 L1535.56,2076.29 L1532.55,2074.6 L1529.55,2072.91 L1526.55,2071.21 L1523.55,2069.52 L1520.55,2067.82 L1517.55,2066.12 L1514.55,2064.42 L1511.54,2062.72 L1508.54,2061.02 L1505.54,2059.31 L1502.54,2057.61 L1499.54,2055.9 L1496.54,2054.2 L1493.54,2052.49 L1490.53,2050.79 L1487.53,2049.08 L1484.53,2047.38 L1481.53,2045.68 L1478.53,2043.97 L1475.53,2042.27 L1472.53,2040.57 L1469.52,2038.87 L1466.52,2037.17 L1463.52,2035.48 L1460.52,2033.78 L1457.52,2032.09 L1454.52,2030.4 L1451.52,2028.71 L1448.51,2027.03 L1445.51,2025.34 L1442.51,2023.66 L1439.51,2021.99 L1436.51,2020.32 L1433.51,2018.65 L1430.51,2016.98 L1427.5,2015.32 L1424.5,2013.66 L1421.5,2012.01 L1418.5,2010.36 L1415.5,2008.71 L1412.5,2007.07 L1409.5,2005.44 L1406.49,2003.81 L1403.49,2002.18 L1400.49,2000.56 L1397.49,1998.95 L1394.49,1997.34 L1391.49,1995.74 L1388.49,1994.14 L1385.48,1992.55 L1382.48,1990.96 L1379.48,1989.38 L1376.48,1987.8 L1373.48,1986.22 L1370.48,1984.64 L1367.48,1983.07 L1364.47,1981.5 L1361.47,1979.92 L1358.47,1978.35 L1355.47,1976.78 L1352.47,1975.21 L1349.47,1973.64 L1346.47,1972.06 L1343.46,1970.49 L1340.46,1968.91 L1337.46,1967.33 L1334.46,1965.75 L1331.46,1964.16 L1328.46,1962.57 L1325.46,1960.98 L1322.45,1959.38 L1319.45,1957.77 L1316.45,1956.16 L1313.45,1954.54 L1310.45,1952.92 L1307.45,1951.28 L1304.45,1949.65 L1301.44,1948 L1298.44,1946.34 L1295.44,1944.68 L1292.44,1943.01 L1289.44,1941.33 L1286.44,1939.64 L1283.44,1937.95 L1280.43,1936.25 L1277.43,1934.54 L1274.43,1932.84 L1271.43,1931.12 L1268.43,1929.41 L1265.43,1927.69 L1262.43,1925.96 L1259.42,1924.24 L1256.42,1922.51 L1253.42,1920.79 L1250.42,1919.06 L1247.42,1917.33 L1244.42,1915.6 L1241.42,1913.87 L1238.41,1912.15 L1235.41,1910.42 L1232.41,1908.7 L1229.41,1906.98 L1226.41,1905.27 L1223.41,1903.55 L1220.41,1901.85 L1217.4,1900.14 L1214.4,1898.45 L1211.4,1896.76 L1208.4,1895.07 L1205.4,1893.39 L1202.4,1891.72 L1199.4,1890.06 L1196.39,1888.41 L1193.39,1886.76 L1190.39,1885.13 L1187.39,1883.5 L1184.39,1881.89 L1181.39,1880.28 L1178.39,1878.69 L1175.38,1877.11 L1172.38,1875.54 L1169.38,1873.99 L1166.38,1872.45 L1163.38,1870.92 L1160.38,1869.41 L1157.38,1867.91 L1154.37,1866.43 L1151.37,1864.96 L1148.37,1863.5 L1145.37,1862.06 L1142.37,1860.63 L1139.37,1859.2 L1136.37,1857.79 L1133.36,1856.38 L1130.36,1854.98 L1127.36,1853.58 L1124.36,1852.2 L1121.36,1850.81 L1118.36,1849.43 L1115.36,1848.05 L1112.35,1846.68 L1109.35,1845.3 L1106.35,1843.92 L1103.35,1842.55 L1100.35,1841.17 L1097.35,1839.79 L1094.35,1838.4 L1091.34,1837.01 L1088.34,1835.62 L1085.34,1834.21 L1082.34,1832.81 L1079.34,1831.39 L1076.34,1829.96 L1073.34,1828.52 L1070.33,1827.08 L1067.33,1825.62 L1064.33,1824.14 L1061.33,1822.66 L1058.33,1821.16 L1055.33,1819.64 L1052.33,1818.11 L1049.32,1816.56 L1046.32,1814.99 L1043.32,1813.4 L1040.32,1811.81 L1037.32,1810.2 L1034.32,1808.59 L1031.32,1806.96 L1028.31,1805.33 L1025.31,1803.7 L1022.31,1802.07 L1019.31,1800.44 L1016.31,1798.82 L1013.31,1797.19 L1010.31,1795.58 L1007.3,1793.98 L1004.3,1792.38 L1001.3,1790.81 L998.3,1789.24 L995.3,1787.7 L992.3,1786.17 L989.3,1784.67 L986.29,1783.19 L983.29,1781.74 L980.29,1780.31 L977.29,1778.92 L974.29,1777.55 L971.29,1776.22 L968.29,1774.91 L965.28,1773.62 L962.28,1772.35 L959.28,1771.11 L956.28,1769.89 L953.28,1768.69 L950.28,1767.5 L947.28,1766.33 L944.27,1765.17 L941.27,1764.02 L938.27,1762.89 L935.27,1761.76 L932.27,1760.65 L929.27,1759.54 L926.27,1758.43 L923.26,1757.33 L920.26,1756.23 L917.26,1755.12 L914.26,1754.02 L911.26,1752.92 L908.26,1751.81 L905.26,1750.69 L902.25,1749.57 L899.25,1748.44 L896.25,1747.29 L893.25,1746.14 L890.25,1744.97 L887.25,1743.79 L884.25,1742.59 L881.24,1741.37 L878.24,1740.13 L875.24,1738.88 L872.24,1737.6 L869.24,1736.31 L866.24,1735 L863.24,1733.68 L860.23,1732.33 L857.23,1730.97 L854.23,1729.58 L851.23,1728.18 L848.23,1726.76 L845.23,1725.33 L842.23,1723.87 L839.22,1722.4 L836.22,1720.91 L833.22,1719.4 L830.22,1717.88 L827.22,1716.33 L824.22,1714.77 L821.22,1713.19 L818.21,1711.59 L815.21,1709.98 L812.21,1708.35 L809.21,1706.69 L806.21,1705.03 L803.21,1703.34 L800.21,1701.64 L797.2,1699.92 L794.2,1698.18 L791.2,1696.42 L788.2,1694.65 L785.2,1692.86 L782.2,1691.04 L779.2,1689.21 L776.19,1687.35 L773.19,1685.47 L770.19,1683.57 L767.19,1681.63 L764.19,1679.67 L761.19,1677.67 L758.19,1675.64 L755.18,1673.58 L752.18,1671.48 L749.18,1669.35 L746.18,1667.17 L743.18,1664.96 L740.18,1662.7 L737.18,1660.4 L734.17,1658.06 L731.17,1655.66 L728.17,1653.22 L725.17,1650.73 L722.17,1648.19 L719.17,1645.6 L716.17,1642.95 L713.16,1640.24 L710.16,1637.48 L707.16,1634.66 L704.16,1631.77 L701.16,1628.83 L698.16,1625.82 L695.16,1622.74 L692.15,1619.6 L689.15,1616.39 L686.15,1613.11 L683.15,1609.75 L680.15,1606.33 L677.15,1602.82 L674.15,1599.24 L671.14,1595.59 L668.14,1591.85 L665.14,1588.03 L662.14,1584.14 L659.14,1580.17 L656.14,1576.13 L653.14,1572.02 L650.13,1567.83 L647.13,1563.58 L644.13,1559.26 L641.13,1554.88 L638.13,1550.43 L635.13,1545.92 L632.13,1541.35 L629.12,1536.72 L626.12,1532.04 L623.12,1527.3 L620.12,1522.52 L617.12,1517.67 L614.12,1512.78 L611.12,1507.85 L608.11,1502.87 L605.11,1497.84 L602.11,1492.77 L599.11,1487.66 L596.11,1482.55 L593.11,1477.56 L590.11,1472.78 L587.1,1468.33 L584.1,1464.32 L581.1,1460.82 L578.1,1457.71 L575.1,1454.8 L572.1,1451.9 L569.1,1448.95 L566.09,1445.96 L563.09,1442.96 L560.09,1439.98 L557.09,1437.03 L554.09,1434.15 L551.09,1431.36 L548.09,1428.67 L545.08,1426.13 L542.08,1423.72 L539.08,1421.45 L536.08,1419.31 L533.08,1417.3 L530.08,1415.41 L527.08,1413.64 L524.07,1412 L521.07,1410.46 L518.07,1409.04 L515.07,1407.73 L512.07,1406.52 L509.07,1405.41 L506.07,1404.4 L503.06,1403.48 L500.06,1402.65 L497.06,1401.91 L494.06,1401.25 L491.06,1400.68 L488.06,1400.18 L485.06,1399.75 L482.05,1399.39 L479.05,1399.1 L476.05,1398.87 L473.05,1398.69 L470.05,1398.55 L467.05,1398.47 L464.05,1398.42 L461.04,1398.4 L458.04,1398.41 L455.04,1398.45 L452.04,1398.5 L449.04,1398.57 L446.04,1398.64 L443.04,1398.72 L440.03,1398.79 L437.03,1398.86 L434.03,1398.91 L431.03,1398.95 L428.03,1398.96 L425.03,1398.95 L422.03,1398.9 L419.02,1398.82 L416.02,1398.7 L413.02,1398.55 L410.02,1398.37 L407.02,1398.17 L404.02,1397.94 L401.02,1397.7 L398.01,1397.44 L395.01,1397.17 L392.01,1396.89 L389.01,1396.61 L386.01,1396.32 L383.01,1396.04 L380.01,1395.76 L377,1395.48 L374,1395.22 L371,1394.98 L368,1394.75 L365,1394.54 L362,1394.36 L359,1394.2 L355.99,1394.08 L352.99,1393.99 L349.99,1393.94 L346.99,1393.92 L343.99,1393.96 L340.99,1394.04 L337.99,1394.17 L334.98,1394.35 L331.98,1394.59 L328.98,1394.89 L325.98,1395.23 L322.98,1395.63 L319.98,1396.09 L316.98,1396.59 L313.97,1397.14 L310.97,1397.75 L307.97,1398.4 L304.97,1399.1 L301.97,1399.84 L298.97,1400.64 L295.97,1401.47 L292.96,1402.35 L289.96,1403.28 L286.96,1404.24 L283.96,1405.25 L280.96,1406.3 L277.96,1407.39 L274.96,1408.52 L271.95,1409.69 L268.95,1410.89 L265.95,1412.13 L262.95,1413.41 L259.95,1414.72 L256.95,1416.06 L253.95,1417.44 L250.94,1418.85 L247.94,1420.3 L244.94,1421.77 L241.94,1423.27 L238.94,1424.8 L235.94,1426.36 L232.94,1427.95 L229.93,1429.56 L226.93,1431.2 L223.93,1432.87 L220.93,1434.55 L217.93,1436.26 L214.93,1438 L211.93,1439.75 L208.92,1441.52 L205.92,1443.32 L202.92,1445.13 L199.92,1446.96 L196.92,1448.81 L193.92,1450.67 L190.92,1452.55 L187.91,1454.45 L184.91,1456.35 L181.91,1458.27 L178.91,1460.21 L175.91,1462.15 L172.91,1464.1 L169.91,1466.07 L166.9,1468.04 L163.9,1470.02 L160.9,1472 L157.9,1474 Z" fill="rgb(255,0,0)" fill-opacity="0.115" stroke="none"/>
<path d="M157.9,1238.79 L160.9,1240.35 L163.9,1241.9 L166.9,1243.44 L169.9,1244.97 L172.91,1246.49 L175.91,1247.99 L178.91,1249.48 L181.91,1250.96 L184.91,1252.43 L187.91,1253.88 L190.91,1255.31 L193.91,1256.73 L196.92,1258.13 L199.92,1259.52 L202.92,1260.88 L205.92,1262.23 L208.92,1263.56 L211.92,1264.86 L214.92,1266.15 L217.92,1267.41 L220.93,1268.66 L223.93,1269.87 L226.93,1271.07 L229.93,1272.24 L232.93,1273.38 L235.93,1274.5 L238.93,1275.59 L241.93,1276.65 L244.94,1277.69 L247.94,1278.69 L250.94,1279.67 L253.94,1280.62 L256.94,1281.53 L259.94,1282.42 L262.94,1283.27 L265.94,1284.08 L268.95,1284.87 L271.95,1285.62 L274.95,1286.33 L277.95,1287.01 L280.95,1287.65 L283.95,1288.26 L286.95,1288.82 L289.95,1289.35 L292.96,1289.84 L295.96,1290.29 L298.96,1290.69 L301.96,1291.06 L304.96,1291.38 L307.96,1291.66 L310.96,1291.9 L313.96,1292.09 L316.96,1292.24 L319.97,1292.34 L322.97,1292.39 L325.97,1292.41 L328.97,1292.39 L331.97,1292.34 L334.97,1292.26 L337.97,1292.15 L340.97,1292.03 L343.98,1291.89 L346.98,1291.74 L349.98,1291.59 L352.98,1291.43 L355.98,1291.27 L358.98,1291.12 L361.98,1290.98 L364.98,1290.86 L367.99,1290.76 L370.99,1290.67 L373.99,1290.62 L376.99,1290.6 L379.99,1290.61 L382.99,1290.67 L385.99,1290.76 L388.99,1290.91 L392,1291.11 L395,1291.37 L398,1291.69 L401,1292.08 L404,1292.53 L407,1293.06 L410,1293.67 L413,1294.36 L416.01,1295.14 L419.01,1296.01 L422.01,1296.98 L425.01,1298.04 L428.01,1299.21 L431.01,1300.49 L434.01,1301.88 L437.01,1303.39 L440.02,1305.02 L443.02,1306.77 L446.02,1308.65 L449.02,1310.67 L452.02,1312.81 L455.02,1315.07 L458.02,1317.44 L461.02,1319.92 L464.02,1322.49 L467.03,1325.16 L470.03,1327.92 L473.03,1330.76 L476.03,1333.67 L479.03,1336.64 L482.03,1339.68 L485.03,1342.77 L488.03,1345.91 L491.04,1349.09 L494.04,1352.31 L497.04,1355.55 L500.04,1358.82 L503.04,1362.1 L506.04,1365.39 L509.04,1368.69 L512.04,1371.98 L515.05,1375.25 L518.05,1378.52 L521.05,1381.76 L524.05,1384.96 L527.05,1388.14 L530.05,1391.27 L533.05,1394.38 L536.05,1397.49 L539.06,1400.61 L542.06,1403.78 L545.06,1407.02 L548.06,1410.34 L551.06,1413.77 L554.06,1417.33 L557.06,1421.04 L560.06,1424.93 L563.07,1429.01 L566.07,1433.32 L569.07,1437.87 L572.07,1442.71 L575.07,1447.87 L578.07,1453.22 L581.07,1458.49 L584.07,1463.35 L587.08,1467.61 L590.08,1471.32 L593.08,1474.57 L596.08,1477.45 L599.08,1480.06 L602.08,1482.47 L605.08,1484.78 L608.08,1487.08 L611.08,1489.4 L614.09,1491.75 L617.09,1494.11 L620.09,1496.49 L623.09,1498.88 L626.09,1501.29 L629.09,1503.71 L632.09,1506.14 L635.09,1508.58 L638.1,1511.02 L641.1,1513.47 L644.1,1515.92 L647.1,1518.38 L650.1,1520.83 L653.1,1523.29 L656.1,1525.74 L659.1,1528.18 L662.11,1530.62 L665.11,1533.05 L668.11,1535.47 L671.11,1537.88 L674.11,1540.27 L677.11,1542.65 L680.11,1545.01 L683.11,1547.35 L686.12,1549.67 L689.12,1551.97 L692.12,1554.25 L695.12,1556.5 L698.12,1558.73 L701.12,1560.92 L704.12,1563.08 L707.12,1565.22 L710.13,1567.32 L713.13,1569.38 L716.13,1571.42 L719.13,1573.43 L722.13,1575.4 L725.13,1577.35 L728.13,1579.26 L731.13,1581.15 L734.14,1583.01 L737.14,1584.85 L740.14,1586.66 L743.14,1588.44 L746.14,1590.2 L749.14,1591.93 L752.14,1593.64 L755.14,1595.33 L758.14,1596.99 L761.15,1598.64 L764.15,1600.26 L767.15,1601.86 L770.15,1603.44 L773.15,1605.01 L776.15,1606.55 L779.15,1608.08 L782.15,1609.58 L785.16,1611.08 L788.16,1612.55 L791.16,1614.01 L794.16,1615.45 L797.16,1616.87 L800.16,1618.28 L803.16,1619.67 L806.16,1621.04 L809.17,1622.4 L812.17,1623.74 L815.17,1625.07 L818.17,1626.38 L821.17,1627.68 L824.17,1628.96 L827.17,1630.23 L830.17,1631.49 L833.18,1632.73 L836.18,1633.96 L839.18,1635.17 L842.18,1636.37 L845.18,1637.56 L848.18,1638.73 L851.18,1639.89 L854.18,1641.04 L857.19,1642.18 L860.19,1643.3 L863.19,1644.41 L866.19,1645.52 L869.19,1646.61 L872.19,1647.68 L875.19,1648.75 L878.19,1649.81 L881.2,1650.86 L884.2,1651.89 L887.2,1652.92 L890.2,1653.94 L893.2,1654.94 L896.2,1655.94 L899.2,1656.93 L902.2,1657.91 L905.2,1658.88 L908.21,1659.84 L911.21,1660.8 L914.21,1661.74 L917.21,1662.68 L920.21,1663.61 L923.21,1664.53 L926.21,1665.45 L929.21,1666.36 L932.22,1667.26 L935.22,1668.16 L938.22,1669.05 L941.22,1669.93 L944.22,1670.81 L947.22,1671.68 L950.22,1672.54 L953.22,1673.4 L956.23,1674.25 L959.23,1675.09 L962.23,1675.93 L965.23,1676.77 L968.23,1677.59 L971.23,1678.41 L974.23,1679.23 L977.23,1680.04 L980.24,1680.84 L983.24,1681.64 L986.24,1682.44 L989.24,1683.23 L992.24,1684.01 L995.24,1684.79 L998.24,1685.56 L1001.24,1686.32 L1004.25,1687.09 L1007.25,1687.84 L1010.25,1688.6 L1013.25,1689.34 L1016.25,1690.09 L1019.25,1690.82 L1022.25,1691.56 L1025.25,1692.28 L1028.26,1693.01 L1031.26,1693.73 L1034.26,1694.44 L1037.26,1695.15 L1040.26,1695.86 L1043.26,1696.56 L1046.26,1697.26 L1049.26,1697.95 L1052.26,1698.64 L1055.27,1699.33 L1058.27,1700.01 L1061.27,1700.69 L1064.27,1701.36 L1067.27,1702.03 L1070.27,1702.7 L1073.27,1703.36 L1076.27,1704.02 L1079.28,1704.68 L1082.28,1705.33 L1085.28,1705.98 L1088.28,1706.63 L1091.28,1707.27 L1094.28,1707.91 L1097.28,1708.55 L1100.28,1709.19 L1103.29,1709.82 L1106.29,1710.45 L1109.29,1711.07 L1112.29,1711.7 L1115.29,1712.32 L1118.29,1712.93 L1121.29,1713.55 L1124.29,1714.16 L1127.3,1714.77 L1130.3,1715.38 L1133.3,1715.99 L1136.3,1716.59 L1139.3,1717.2 L1142.3,1717.8 L1145.3,1718.39 L1148.3,1718.99 L1151.31,1719.58 L1154.31,1720.18 L1157.31,1720.77 L1160.31,1721.36 L1163.31,1721.94 L1166.31,1722.53 L1169.31,1723.12 L1172.31,1723.7 L1175.32,1724.28 L1178.32,1724.86 L1181.32,1725.44 L1184.32,1726.02 L1187.32,1726.6 L1190.32,1727.17 L1193.32,1727.75 L1196.32,1728.33 L1199.32,1728.9 L1202.33,1729.47 L1205.33,1730.05 L1208.33,1730.62 L1211.33,1731.19 L1214.33,1731.76 L1217.33,1732.33 L1220.33,1732.9 L1223.33,1733.47 L1226.34,1734.04 L1229.34,1734.61 L1232.34,1735.18 L1235.34,1735.75 L1238.34,1736.32 L1241.34,1736.89 L1244.34,1737.47 L1247.34,1738.04 L1250.35,1738.61 L1253.35,1739.18 L1256.35,1739.75 L1259.35,1740.32 L1262.35,1740.9 L1265.35,1741.47 L1268.35,1742.05 L1271.35,1742.62 L1274.36,1743.2 L1277.36,1743.78 L1280.36,1744.35 L1283.36,1744.93 L1286.36,1745.51 L1289.36,1746.09 L1292.36,1746.67 L1295.36,1747.25 L1298.37,1747.83 L1301.37,1748.41 L1304.37,1748.99 L1307.37,1749.57 L1310.37,1750.16 L1313.37,1750.74 L1316.37,1751.32 L1319.37,1751.91 L1322.38,1752.49 L1325.38,1753.07 L1328.38,1753.66 L1331.38,1754.24 L1334.38,1754.83 L1337.38,1755.41 L1340.38,1756 L1343.38,1756.58 L1346.38,1757.17 L1349.39,1757.75 L1352.39,1758.34 L1355.39,1758.92 L1358.39,1759.51 L1361.39,1760.09 L1364.39,1760.68 L1367.39,1761.26 L1370.39,1761.85 L1373.4,1762.43 L1376.4,1763.02 L1379.4,1763.6 L1382.4,1764.19 L1385.4,1764.77 L1388.4,1765.36 L1391.4,1765.94 L1394.4,1766.52 L1397.41,1767.11 L1400.41,1767.69 L1403.41,1768.27 L1406.41,1768.85 L1409.41,1769.44 L1412.41,1770.02 L1415.41,1770.6 L1418.41,1771.18 L1421.42,1771.76 L1424.42,1772.34 L1427.42,1772.92 L1430.42,1773.5 L1433.42,1774.08 L1436.42,1774.65 L1439.42,1775.23 L1442.42,1775.81 L1445.43,1776.38 L1448.43,1776.96 L1451.43,1777.53 L1454.43,1778.1 L1457.43,1778.68 L1460.43,1779.25 L1463.43,1779.82 L1466.43,1780.39 L1469.44,1780.96 L1472.44,1781.53 L1475.44,1782.09 L1478.44,1782.66 L1481.44,1783.23 L1484.44,1783.79 L1487.44,1784.36 L1490.44,1784.92 L1493.44,1785.48 L1496.45,1786.04 L1499.45,1786.6 L1502.45,1787.16 L1505.45,1787.72 L1508.45,1788.27 L1511.45,1788.83 L1514.45,1789.38 L1517.45,1789.93 L1520.46,1790.48 L1523.46,1791.03 L1526.46,1791.58 L1529.46,1792.13 L1532.46,1792.68 L1535.46,1793.22 L1538.46,1793.76 L1541.46,1794.31 L1544.47,1794.85 L1547.47,1795.39 L1550.47,1795.92 L1553.47,1796.46 L1556.47,1796.99 L1559.47,1797.53 L1562.47,1798.06 L1565.47,1798.59 L1568.48,1799.12 L1571.48,1799.64 L1574.48,1800.17 L1577.48,1800.69 L1580.48,1801.21 L1583.48,1801.73 L1586.48,1802.25 L1589.48,1802.76 L1592.49,1803.28 L1595.49,1803.79 L1598.49,1804.3 L1601.49,1804.81 L1604.49,1805.32 L1607.49,1805.82 L1610.49,1806.33 L1613.49,1806.83 L1616.5,1807.33 L1619.5,1807.82 L1622.5,1808.32 L1625.5,1808.81 L1628.5,1809.3" fill="none" stroke="#d41a1a" stroke-width="1.3"/>
<path d="M157.9,1474 L160.9,1472 L163.9,1470.02 L166.9,1468.04 L169.91,1466.07 L172.91,1464.1 L175.91,1462.15 L178.91,1460.21 L181.91,1458.27 L184.91,1456.35 L187.91,1454.45 L190.92,1452.55 L193.92,1450.67 L196.92,1448.81 L199.92,1446.96 L202.92,1445.13 L205.92,1443.32 L208.92,1441.52 L211.93,1439.75 L214.93,1438 L217.93,1436.26 L220.93,1434.55 L223.93,1432.87 L226.93,1431.2 L229.93,1429.56 L232.94,1427.95 L235.94,1426.36 L238.94,1424.8 L241.94,1423.27 L244.94,1421.77 L247.94,1420.3 L250.94,1418.85 L253.95,1417.44 L256.95,1416.06 L259.95,1414.72 L262.95,1413.41 L265.95,1412.13 L268.95,1410.89 L271.95,1409.69 L274.96,1408.52 L277.96,1407.39 L280.96,1406.3 L283.96,1405.25 L286.96,1404.24 L289.96,1403.28 L292.96,1402.35 L295.97,1401.47 L298.97,1400.64 L301.97,1399.84 L304.97,1399.1 L307.97,1398.4 L310.97,1397.75 L313.97,1397.14 L316.98,1396.59 L319.98,1396.09 L322.98,1395.63 L325.98,1395.23 L328.98,1394.89 L331.98,1394.59 L334.98,1394.35 L337.99,1394.17 L340.99,1394.04 L343.99,1393.96 L346.99,1393.92 L349.99,1393.94 L352.99,1393.99 L355.99,1394.08 L359,1394.2 L362,1394.36 L365,1394.54 L368,1394.75 L371,1394.98 L374,1395.22 L377,1395.48 L380.01,1395.76 L383.01,1396.04 L386.01,1396.32 L389.01,1396.61 L392.01,1396.89 L395.01,1397.17 L398.01,1397.44 L401.02,1397.7 L404.02,1397.94 L407.02,1398.17 L410.02,1398.37 L413.02,1398.55 L416.02,1398.7 L419.02,1398.82 L422.03,1398.9 L425.03,1398.95 L428.03,1398.96 L431.03,1398.95 L434.03,1398.91 L437.03,1398.86 L440.03,1398.79 L443.04,1398.72 L446.04,1398.64 L449.04,1398.57 L452.04,1398.5 L455.04,1398.45 L458.04,1398.41 L461.04,1398.4 L464.05,1398.42 L467.05,1398.47 L470.05,1398.55 L473.05,1398.69 L476.05,1398.87 L479.05,1399.1 L482.05,1399.39 L485.06,1399.75 L488.06,1400.18 L491.06,1400.68 L494.06,1401.25 L497.06,1401.91 L500.06,1402.65 L503.06,1403.48 L506.07,1404.4 L509.07,1405.41 L512.07,1406.52 L515.07,1407.73 L518.07,1409.04 L521.07,1410.46 L524.07,1412 L527.08,1413.64 L530.08,1415.41 L533.08,1417.3 L536.08,1419.31 L539.08,1421.45 L542.08,1423.72 L545.08,1426.13 L548.09,1428.67 L551.09,1431.36 L554.09,1434.15 L557.09,1437.03 L560.09,1439.98 L563.09,1442.96 L566.09,1445.96 L569.1,1448.95 L572.1,1451.9 L575.1,1454.8 L578.1,1457.71 L581.1,1460.82 L584.1,1464.32 L587.1,1468.33 L590.11,1472.78 L593.11,1477.56 L596.11,1482.55 L599.11,1487.66 L602.11,1492.77 L605.11,1497.84 L608.11,1502.87 L611.12,1507.85 L614.12,1512.78 L617.12,1517.67 L620.12,1522.52 L623.12,1527.3 L626.12,1532.04 L629.12,1536.72 L632.13,1541.35 L635.13,1545.92 L638.13,1550.43 L641.13,1554.88 L644.13,1559.26 L647.13,1563.58 L650.13,1567.83 L653.14,1572.02 L656.14,1576.13 L659.14,1580.17 L662.14,1584.14 L665.14,1588.03 L668.14,1591.85 L671.14,1595.59 L674.15,1599.24 L677.15,1602.82 L680.15,1606.33 L683.15,1609.75 L686.15,1613.11 L689.15,1616.39 L692.15,1619.6 L695.16,1622.74 L698.16,1625.82 L701.16,1628.83 L704.16,1631.77 L707.16,1634.66 L710.16,1637.48 L713.16,1640.24 L716.17,1642.95 L719.17,1645.6 L722.17,1648.19 L725.17,1650.73 L728.17,1653.22 L731.17,1655.66 L734.17,1658.06 L737.18,1660.4 L740.18,1662.7 L743.18,1664.96 L746.18,1667.17 L749.18,1669.35 L752.18,1671.48 L755.18,1673.58 L758.19,1675.64 L761.19,1677.67 L764.19,1679.67 L767.19,1681.63 L770.19,1683.57 L773.19,1685.47 L776.19,1687.35 L779.2,1689.21 L782.2,1691.04 L785.2,1692.86 L788.2,1694.65 L791.2,1696.42 L794.2,1698.18 L797.2,1699.92 L800.21,1701.64 L803.21,1703.34 L806.21,1705.03 L809.21,1706.69 L812.21,1708.35 L815.21,1709.98 L818.21,1711.59 L821.22,1713.19 L824.22,1714.77 L827.22,1716.33 L830.22,1717.88 L833.22,1719.4 L836.22,1720.91 L839.22,1722.4 L842.23,1723.87 L845.23,1725.33 L848.23,1726.76 L851.23,1728.18 L854.23,1729.58 L857.23,1730.97 L860.23,1732.33 L863.24,1733.68 L866.24,1735 L869.24,1736.31 L872.24,1737.6 L875.24,1738.88 L878.24,1740.13 L881.24,1741.37 L884.25,1742.59 L887.25,1743.79 L890.25,1744.97 L893.25,1746.14 L896.25,1747.29 L899.25,1748.44 L902.25,1749.57 L905.26,1750.69 L908.26,1751.81 L911.26,1752.92 L914.26,1754.02 L917.26,1755.12 L920.26,1756.23 L923.26,1757.33 L926.27,1758.43 L929.27,1759.54 L932.27,1760.65 L935.27,1761.76 L938.27,1762.89 L941.27,1764.02 L944.27,1765.17 L947.28,1766.33 L950.28,1767.5 L953.28,1768.69 L956.28,1769.89 L959.28,1771.11 L962.28,1772.35 L965.28,1773.62 L968.29,1774.91 L971.29,1776.22 L974.29,1777.55 L977.29,1778.92 L980.29,1780.31 L983.29,1781.74 L986.29,1783.19 L989.3,1784.67 L992.3,1786.17 L995.3,1787.7 L998.3,1789.24 L1001.3,1790.81 L1004.3,1792.38 L1007.3,1793.98 L1010.31,1795.58 L1013.31,1797.19 L1016.31,1798.82 L1019.31,1800.44 L1022.31,1802.07 L1025.31,1803.7 L1028.31,1805.33 L1031.32,1806.96 L1034.32,1808.59 L1037.32,1810.2 L1040.32,1811.81 L1043.32,1813.4 L1046.32,1814.99 L1049.32,1816.56 L1052.33,1818.11 L1055.33,1819.64 L1058.33,1821.16 L1061.33,1822.66 L1064.33,1824.14 L1067.33,1825.62 L1070.33,1827.08 L1073.34,1828.52 L1076.34,1829.96 L1079.34,1831.39 L1082.34,1832.81 L1085.34,1834.21 L1088.34,1835.62 L1091.34,1837.01 L1094.35,1838.4 L1097.35,1839.79 L1100.35,1841.17 L1103.35,1842.55 L1106.35,1843.92 L1109.35,1845.3 L1112.35,1846.68 L1115.36,1848.05 L1118.36,1849.43 L1121.36,1850.81 L1124.36,1852.2 L1127.36,1853.58 L1130.36,1854.98 L1133.36,1856.38 L1136.37,1857.79 L1139.37,1859.2 L1142.37,1860.63 L1145.37,1862.06 L1148.37,1863.5 L1151.37,1864.96 L1154.37,1866.43 L1157.38,1867.91 L1160.38,1869.41 L1163.38,1870.92 L1166.38,1872.45 L1169.38,1873.99 L1172.38,1875.54 L1175.38,1877.11 L1178.39,1878.69 L1181.39,1880.28 L1184.39,1881.89 L1187.39,1883.5 L1190.39,1885.13 L1193.39,1886.76 L1196.39,1888.41 L1199.4,1890.06 L1202.4,1891.72 L1205.4,1893.39 L1208.4,1895.07 L1211.4,1896.76 L1214.4,1898.45 L1217.4,1900.14 L1220.41,1901.85 L1223.41,1903.55 L1226.41,1905.27 L1229.41,1906.98 L1232.41,1908.7 L1235.41,1910.42 L1238.41,1912.15 L1241.42,1913.87 L1244.42,1915.6 L1247.42,1917.33 L1250.42,1919.06 L1253.42,1920.79 L1256.42,1922.51 L1259.42,1924.24 L1262.43,1925.96 L1265.43,1927.69 L1268.43,1929.41 L1271.43,1931.12 L1274.43,1932.84 L1277.43,1934.54 L1280.43,1936.25 L1283.44,1937.95 L1286.44,1939.64 L1289.44,1941.33 L1292.44,1943.01 L1295.44,1944.68 L1298.44,1946.34 L1301.44,1948 L1304.45,1949.65 L1307.45,1951.28 L1310.45,1952.92 L1313.45,1954.54 L1316.45,1956.16 L1319.45,1957.77 L1322.45,1959.38 L1325.46,1960.98 L1328.46,1962.57 L1331.46,1964.16 L1334.46,1965.75 L1337.46,1967.33 L1340.46,1968.91 L1343.46,1970.49 L1346.47,1972.06 L1349.47,1973.64 L1352.47,1975.21 L1355.47,1976.78 L1358.47,1978.35 L1361.47,1979.92 L1364.47,1981.5 L1367.48,1983.07 L1370.48,1984.64 L1373.48,1986.22 L1376.48,1987.8 L1379.48,1989.38 L1382.48,1990.96 L1385.48,1992.55 L1388.49,1994.14 L1391.49,1995.74 L1394.49,1997.34 L1397.49,1998.95 L1400.49,2000.56 L1403.49,2002.18 L1406.49,2003.81 L1409.5,2005.44 L1412.5,2007.07 L1415.5,2008.71 L1418.5,2010.36 L1421.5,2012.01 L1424.5,2013.66 L1427.5,2015.32 L1430.51,2016.98 L1433.51,2018.65 L1436.51,2020.32 L1439.51,2021.99 L1442.51,2023.66 L1445.51,2025.34 L1448.51,2027.03 L1451.52,2028.71 L1454.52,2030.4 L1457.52,2032.09 L1460.52,2033.78 L1463.52,2035.48 L1466.52,2037.17 L1469.52,2038.87 L1472.53,2040.57 L1475.53,2042.27 L1478.53,2043.97 L1481.53,2045.68 L1484.53,2047.38 L1487.53,2049.08 L1490.53,2050.79 L1493.54,2052.49 L1496.54,2054.2 L1499.54,2055.9 L1502.54,2057.61 L1505.54,2059.31 L1508.54,2061.02 L1511.54,2062.72 L1514.55,2064.42 L1517.55,2066.12 L1520.55,2067.82 L1523.55,2069.52 L1526.55,2071.21 L1529.55,2072.91 L1532.55,2074.6 L1535.56,2076.29 L1538.56,2077.97 L1541.56,2079.66 L1544.56,2081.34 L1547.56,2083.02 L1550.56,2084.69 L1553.56,2086.36 L1556.57,2088.03 L1559.57,2089.7 L1562.57,2091.36 L1565.57,2093.01 L1568.57,2094.66 L1571.57,2096.31 L1574.57,2097.95 L1577.58,2099.59 L1580.58,2101.22 L1583.58,2102.85 L1586.58,2104.47 L1589.58,2106.09 L1592.58,2107.7 L1595.58,2109.31 L1598.59,2110.91 L1601.59,2112.5 L1604.59,2114.09 L1607.59,2115.66 L1610.59,2117.24 L1613.59,2118.8 L1616.59,2120.36 L1619.6,2121.91 L1622.6,2123.46 L1625.6,2124.99 L1628.6,2126.52" fill="none" stroke="#d41a1a" stroke-width="1.3"/>
<path d="M157.9,1355.99 L160.9,1355.74 L163.9,1355.49 L166.9,1355.24 L169.9,1354.99 L172.91,1354.74 L175.91,1354.49 L178.91,1354.23 L181.91,1353.98 L184.91,1353.73 L187.91,1353.48 L190.91,1353.22 L193.91,1352.97 L196.92,1352.72 L199.92,1352.47 L202.92,1352.22 L205.92,1351.96 L208.92,1351.71 L211.92,1351.47 L214.92,1351.22 L217.92,1350.97 L220.93,1350.73 L223.93,1350.48 L226.93,1350.24 L229.93,1350 L232.93,1349.76 L235.93,1349.52 L238.93,1349.29 L241.93,1349.05 L244.94,1348.82 L247.94,1348.59 L250.94,1348.37 L253.94,1348.14 L256.94,1347.92 L259.94,1347.7 L262.94,1347.49 L265.94,1347.27 L268.95,1347.06 L271.95,1346.86 L274.95,1346.66 L277.95,1346.46 L280.95,1346.26 L283.95,1346.07 L286.95,1345.88 L289.95,1345.69 L292.96,1345.51 L295.96,1345.34 L298.96,1345.16 L301.96,1344.99 L304.96,1344.83 L307.96,1344.67 L310.96,1344.52 L313.96,1344.37 L316.96,1344.22 L319.97,1344.08 L322.97,1343.95 L325.97,1343.82 L328.97,1343.7 L331.97,1343.58 L334.97,1343.47 L337.97,1343.36 L340.97,1343.27 L343.98,1343.18 L346.98,1343.11 L349.98,1343.04 L352.98,1343 L355.98,1342.96 L358.98,1342.95 L361.98,1342.95 L364.98,1342.97 L367.99,1343.02 L370.99,1343.08 L373.99,1343.17 L376.99,1343.28 L379.99,1343.42 L382.99,1343.59 L385.99,1343.78 L388.99,1344.01 L392,1344.26 L395,1344.55 L398,1344.87 L401,1345.23 L404,1345.62 L407,1346.05 L410,1346.53 L413,1347.04 L416.01,1347.59 L419.01,1348.19 L422.01,1348.83 L425.01,1349.51 L428.01,1350.24 L431.01,1351.03 L434.01,1351.86 L437.01,1352.74 L440.02,1353.67 L443.02,1354.66 L446.02,1355.71 L449.02,1356.8 L452.02,1357.96 L455.02,1359.18 L458.02,1360.45 L461.02,1361.79 L464.02,1363.19 L467.03,1364.66 L470.03,1366.19 L473.03,1367.78 L476.03,1369.43 L479.03,1371.12 L482.03,1372.85 L485.03,1374.62 L488.03,1376.4 L491.04,1378.21 L494.04,1380.01 L497.04,1381.82 L500.04,1383.62 L503.04,1385.39 L506.04,1387.15 L509.04,1388.89 L512.04,1390.64 L515.05,1392.42 L518.05,1394.25 L521.05,1396.16 L524.05,1398.16 L527.05,1400.28 L530.05,1402.54 L533.05,1404.96 L536.05,1407.53 L539.06,1410.25 L542.06,1413.1 L545.06,1416.09 L548.06,1419.21 L551.06,1422.45 L554.06,1425.81 L557.06,1429.27 L560.06,1432.84 L563.07,1436.5 L566.07,1440.25 L569.07,1444.07 L572.07,1447.96 L575.07,1451.89 L578.07,1455.86 L581.07,1459.86 L584.07,1463.87 L587.08,1467.88 L590.08,1471.84 L593.08,1475.72 L596.08,1479.48 L599.08,1483.13 L602.08,1486.69 L605.08,1490.21 L608.08,1493.72 L611.08,1497.22 L614.09,1500.71 L617.09,1504.18 L620.09,1507.65 L623.09,1511.1 L626.09,1514.54 L629.09,1517.96 L632.09,1521.37 L635.09,1524.75 L638.1,1528.12 L641.1,1531.47 L644.1,1534.79 L647.1,1538.09 L650.1,1541.37 L653.1,1544.62 L656.1,1547.84 L659.1,1551.04 L662.11,1554.2 L665.11,1557.34 L668.11,1560.44 L671.11,1563.51 L674.11,1566.55 L677.11,1569.55 L680.11,1572.52 L683.11,1575.45 L686.12,1578.33 L689.12,1581.18 L692.12,1583.99 L695.12,1586.75 L698.12,1589.47 L701.12,1592.15 L704.12,1594.77 L707.12,1597.35 L710.13,1599.89 L713.13,1602.37 L716.13,1604.81 L719.13,1607.21 L722.13,1609.56 L725.13,1611.87 L728.13,1614.14 L731.13,1616.37 L734.14,1618.55 L737.14,1620.7 L740.14,1622.81 L743.14,1624.88 L746.14,1626.92 L749.14,1628.92 L752.14,1630.89 L755.14,1632.82 L758.14,1634.72 L761.15,1636.59 L764.15,1638.43 L767.15,1640.24 L770.15,1642.02 L773.15,1643.77 L776.15,1645.5 L779.15,1647.2 L782.15,1648.88 L785.16,1650.53 L788.16,1652.15 L791.16,1653.75 L794.16,1655.33 L797.16,1656.89 L800.16,1658.43 L803.16,1659.94 L806.16,1661.43 L809.17,1662.91 L812.17,1664.36 L815.17,1665.8 L818.17,1667.21 L821.17,1668.61 L824.17,1669.99 L827.17,1671.35 L830.17,1672.7 L833.18,1674.03 L836.18,1675.35 L839.18,1676.65 L842.18,1677.94 L845.18,1679.21 L848.18,1680.48 L851.18,1681.73 L854.18,1682.96 L857.19,1684.19 L860.19,1685.41 L863.19,1686.61 L866.19,1687.81 L869.19,1688.99 L872.19,1690.17 L875.19,1691.34 L878.19,1692.51 L881.2,1693.67 L884.2,1694.82 L887.2,1695.96 L890.2,1697.1 L893.2,1698.24 L896.2,1699.37 L899.2,1700.5 L902.2,1701.63 L905.2,1702.75 L908.21,1703.87 L911.21,1705 L914.21,1706.12 L917.21,1707.24 L920.21,1708.36 L923.21,1709.48 L926.21,1710.61 L929.21,1711.74 L932.22,1712.87 L935.22,1714 L938.22,1715.13 L941.22,1716.27 L944.22,1717.41 L947.22,1718.56 L950.22,1719.7 L953.22,1720.85 L956.23,1722 L959.23,1723.15 L962.23,1724.3 L965.23,1725.46 L968.23,1726.61 L971.23,1727.77 L974.23,1728.93 L977.23,1730.08 L980.24,1731.24 L983.24,1732.4 L986.24,1733.56 L989.24,1734.71 L992.24,1735.87 L995.24,1737.03 L998.24,1738.19 L1001.24,1739.34 L1004.25,1740.5 L1007.25,1741.65 L1010.25,1742.8 L1013.25,1743.95 L1016.25,1745.1 L1019.25,1746.25 L1022.25,1747.39 L1025.25,1748.54 L1028.26,1749.68 L1031.26,1750.81 L1034.26,1751.95 L1037.26,1753.08 L1040.26,1754.21 L1043.26,1755.34 L1046.26,1756.46 L1049.26,1757.58 L1052.26,1758.69 L1055.27,1759.8 L1058.27,1760.91 L1061.27,1762.02 L1064.27,1763.12 L1067.27,1764.21 L1070.27,1765.31 L1073.27,1766.4 L1076.27,1767.48 L1079.28,1768.57 L1082.28,1769.65 L1085.28,1770.73 L1088.28,1771.8 L1091.28,1772.88 L1094.28,1773.95 L1097.28,1775.01 L1100.28,1776.08 L1103.29,1777.14 L1106.29,1778.2 L1109.29,1779.26 L1112.29,1780.32 L1115.29,1781.38 L1118.29,1782.43 L1121.29,1783.48 L1124.29,1784.53 L1127.3,1785.58 L1130.3,1786.63 L1133.3,1787.68 L1136.3,1788.72 L1139.3,1789.77 L1142.3,1790.81 L1145.3,1791.85 L1148.3,1792.89 L1151.31,1793.93 L1154.31,1794.97 L1157.31,1796.01 L1160.31,1797.05 L1163.31,1798.09 L1166.31,1799.13 L1169.31,1800.17 L1172.31,1801.21 L1175.32,1802.25 L1178.32,1803.29 L1181.32,1804.33 L1184.32,1805.37 L1187.32,1806.41 L1190.32,1807.45 L1193.32,1808.49 L1196.32,1809.53 L1199.32,1810.57 L1202.33,1811.62 L1205.33,1812.66 L1208.33,1813.71 L1211.33,1814.76 L1214.33,1815.81 L1217.33,1816.86 L1220.33,1817.91 L1223.33,1818.96 L1226.34,1820.02 L1229.34,1821.07 L1232.34,1822.13 L1235.34,1823.19 L1238.34,1824.26 L1241.34,1825.32 L1244.34,1826.39 L1247.34,1827.46 L1250.35,1828.54 L1253.35,1829.61 L1256.35,1830.69 L1259.35,1831.77 L1262.35,1832.85 L1265.35,1833.94 L1268.35,1835.03 L1271.35,1836.12 L1274.36,1837.22 L1277.36,1838.32 L1280.36,1839.42 L1283.36,1840.53 L1286.36,1841.63 L1289.36,1842.74 L1292.36,1843.85 L1295.36,1844.97 L1298.37,1846.08 L1301.37,1847.2 L1304.37,1848.33 L1307.37,1849.45 L1310.37,1850.57 L1313.37,1851.7 L1316.37,1852.83 L1319.37,1853.96 L1322.38,1855.1 L1325.38,1856.23 L1328.38,1857.37 L1331.38,1858.5 L1334.38,1859.64 L1337.38,1860.79 L1340.38,1861.93 L1343.38,1863.07 L1346.38,1864.22 L1349.39,1865.36 L1352.39,1866.51 L1355.39,1867.66 L1358.39,1868.81 L1361.39,1869.96 L1364.39,1871.11 L1367.39,1872.26 L1370.39,1873.42 L1373.4,1874.57 L1376.4,1875.72 L1379.4,1876.88 L1382.4,1878.03 L1385.4,1879.19 L1388.4,1880.35 L1391.4,1881.5 L1394.4,1882.66 L1397.41,1883.81 L1400.41,1884.97 L1403.41,1886.13 L1406.41,1887.28 L1409.41,1888.44 L1412.41,1889.6 L1415.41,1890.75 L1418.41,1891.91 L1421.42,1893.06 L1424.42,1894.22 L1427.42,1895.37 L1430.42,1896.52 L1433.42,1897.68 L1436.42,1898.83 L1439.42,1899.98 L1442.42,1901.13 L1445.43,1902.28 L1448.43,1903.43 L1451.43,1904.58 L1454.43,1905.72 L1457.43,1906.87 L1460.43,1908.01 L1463.43,1909.15 L1466.43,1910.29 L1469.44,1911.43 L1472.44,1912.57 L1475.44,1913.71 L1478.44,1914.84 L1481.44,1915.97 L1484.44,1917.1 L1487.44,1918.23 L1490.44,1919.36 L1493.44,1920.48 L1496.45,1921.61 L1499.45,1922.73 L1502.45,1923.84 L1505.45,1924.96 L1508.45,1926.07 L1511.45,1927.19 L1514.45,1928.29 L1517.45,1929.4 L1520.46,1930.5 L1523.46,1931.6 L1526.46,1932.7 L1529.46,1933.8 L1532.46,1934.89 L1535.46,1935.98 L1538.46,1937.06 L1541.46,1938.15 L1544.47,1939.23 L1547.47,1940.3 L1550.47,1941.38 L1553.47,1942.45 L1556.47,1943.51 L1559.47,1944.58 L1562.47,1945.63 L1565.47,1946.69 L1568.48,1947.74 L1571.48,1948.79 L1574.48,1949.83 L1577.48,1950.87 L1580.48,1951.91 L1583.48,1952.94 L1586.48,1953.97 L1589.48,1955 L1592.49,1956.01 L1595.49,1957.03 L1598.49,1958.04 L1601.49,1959.05 L1604.49,1960.05 L1607.49,1961.05 L1610.49,1962.04 L1613.49,1963.03 L1616.5,1964.01 L1619.5,1964.99 L1622.5,1965.96 L1625.5,1966.93 L1628.5,1967.89" fill="none" stroke="#e00000" stroke-width="2.7" stroke-linecap="round"/>
<line x1="100.1" y1="1462.6" x2="1687.2" y2="1462.6" stroke="#111" stroke-width="1.3" stroke-dasharray="5.2 4.3"/>
<line x1="583.7" y1="1192.4" x2="583.7" y2="2162.4" stroke="#111" stroke-width="1.4" stroke-dasharray="5.2 4.3"/>
<rect x="100.1" y="1192.4" width="1587.1" height="970" fill="none" stroke="#222" stroke-width="1.6"/>
<path d="M87.9,2126H100.1M87.9,1867.7H100.1M87.9,1609.4H100.1M87.9,1351.1H100.1M1687.2,1246.3H1699.4M1687.2,1462.47H1699.4M1687.2,1678.65H1699.4M1687.2,1894.82H1699.4M1687.2,2111H1699.4M109.1,2162.4V2174.4M485.2,2162.4V2174.4M861.3,2162.4V2174.4M1237.4,2162.4V2174.4M1613.5,2162.4V2174.4" stroke="#222" stroke-width="1.5" fill="none"/>
<g class="lab"><text x="75.7" y="2134" text-anchor="end">0.000</text><text x="75.7" y="1875.7" text-anchor="end">0.005</text><text x="75.7" y="1617.4" text-anchor="end">0.010</text><text x="75.7" y="1359.1" text-anchor="end">0.015</text><text x="1709.8" y="1253.5">10</text><text x="1709.8" y="1469.67">0</text><text x="1709.8" y="1685.85">-10</text><text x="1709.8" y="1902.02">-20</text><text x="1709.8" y="2118.2">-30</text><text x="109.1" y="2205.4" text-anchor="middle">0</text><text x="485.2" y="2205.4" text-anchor="middle">50</text><text x="861.3" y="2205.4" text-anchor="middle">100</text><text x="1237.4" y="2205.4" text-anchor="middle">150</text><text x="1613.5" y="2205.4" text-anchor="middle">200</text></g>
<text class="lab" transform="translate(24,1677.4) rotate(-90)" text-anchor="middle">Density</text>
<text class="lab" transform="translate(1777.1,1677.4) rotate(-90)" text-anchor="middle">PHR</text>
<text class="lab" x="893.65" y="2252.7" text-anchor="middle">Serum 25(OH)D<tspan font-size="14.5">3</tspan> concentrations (nmol/L)</text>
<text class="lab" x="1186.6" y="1264">P-nonlinear &lt; 0.001</text>
<text class="let" x="97.2" y="1172.6">B</text>
<circle cx="1374.7" cy="1275.4" r="0.9" fill="#e00"/>
</svg>
</body></html>
